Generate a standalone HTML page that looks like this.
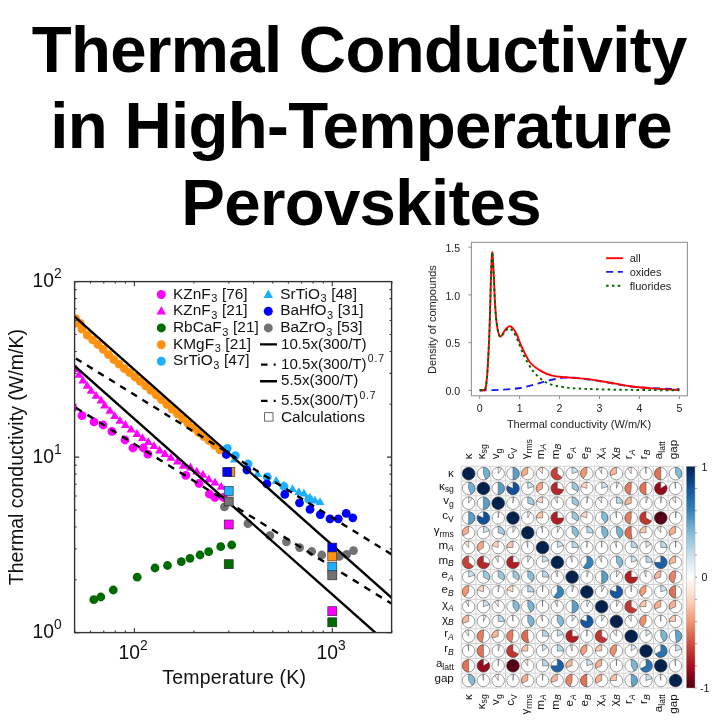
<!DOCTYPE html><html><head><meta charset="utf-8"><style>html,body{margin:0;padding:0;background:#fff;width:720px;height:720px;overflow:hidden}svg{display:block;will-change:transform}text{font-family:"Liberation Sans",sans-serif}</style></head><body>
<svg width="720" height="720" viewBox="0 0 720 720">
<rect width="720" height="720" fill="#fff"/>
<g font-weight="bold" font-size="65.4" letter-spacing="-0.69" text-anchor="middle" fill="#000">
<text x="359.2" y="72.0">Thermal Conductivity</text>
<text x="361.1" y="148.0">in High-Temperature</text>
<text x="361.1" y="225.3">Perovskites</text>
</g>
<defs><clipPath id="cp"><rect x="74.6" y="281.6" width="317.0" height="351.0"/></clipPath></defs>
<g clip-path="url(#cp)">
<circle cx="76.7" cy="323.2" r="4.4" fill="#ff9210"/>
<circle cx="82.0" cy="329.2" r="4.4" fill="#ff9210"/>
<circle cx="87.3" cy="335.1" r="4.4" fill="#ff9210"/>
<circle cx="92.6" cy="339.8" r="4.4" fill="#ff9210"/>
<circle cx="97.9" cy="344.5" r="4.4" fill="#ff9210"/>
<circle cx="103.2" cy="349.3" r="4.4" fill="#ff9210"/>
<circle cx="108.5" cy="354.6" r="4.4" fill="#ff9210"/>
<circle cx="113.8" cy="359.7" r="4.4" fill="#ff9210"/>
<circle cx="119.1" cy="364.2" r="4.4" fill="#ff9210"/>
<circle cx="124.4" cy="368.7" r="4.4" fill="#ff9210"/>
<circle cx="129.7" cy="372.7" r="4.4" fill="#ff9210"/>
<circle cx="135.0" cy="377.0" r="4.4" fill="#ff9210"/>
<circle cx="140.3" cy="381.3" r="4.4" fill="#ff9210"/>
<circle cx="145.6" cy="385.8" r="4.4" fill="#ff9210"/>
<circle cx="150.9" cy="390.4" r="4.4" fill="#ff9210"/>
<circle cx="156.2" cy="395.0" r="4.4" fill="#ff9210"/>
<circle cx="161.5" cy="399.6" r="4.4" fill="#ff9210"/>
<circle cx="166.8" cy="404.3" r="4.4" fill="#ff9210"/>
<circle cx="172.1" cy="409.1" r="4.4" fill="#ff9210"/>
<circle cx="177.4" cy="413.8" r="4.4" fill="#ff9210"/>
<circle cx="182.7" cy="418.6" r="4.4" fill="#ff9210"/>
<circle cx="188.0" cy="423.4" r="4.4" fill="#ff9210"/>
<circle cx="193.3" cy="428.1" r="4.4" fill="#ff9210"/>
<circle cx="198.6" cy="432.5" r="4.4" fill="#ff9210"/>
<circle cx="203.9" cy="436.6" r="4.4" fill="#ff9210"/>
<circle cx="209.2" cy="440.7" r="4.4" fill="#ff9210"/>
<circle cx="214.5" cy="445.1" r="4.4" fill="#ff9210"/>
<circle cx="219.8" cy="449.8" r="4.4" fill="#ff9210"/>
<circle cx="75.6" cy="318.6" r="4.4" fill="#ff9210"/>
<circle cx="80.3" cy="323.4" r="4.4" fill="#ff9210"/>
<path d="M76.0 364.3L80.5 372.1L71.5 372.1Z" fill="#ff00ff"/>
<path d="M79.0 369.9L83.5 377.7L74.5 377.7Z" fill="#ff00ff"/>
<path d="M82.9 375.7L87.4 383.5L78.4 383.5Z" fill="#ff00ff"/>
<path d="M87.1 381.0L91.6 388.8L82.6 388.8Z" fill="#ff00ff"/>
<path d="M91.2 386.0L95.7 393.8L86.7 393.8Z" fill="#ff00ff"/>
<path d="M96.1 391.0L100.6 398.8L91.6 398.8Z" fill="#ff00ff"/>
<path d="M101.1 395.8L105.6 403.6L96.6 403.6Z" fill="#ff00ff"/>
<path d="M104.7 400.6L109.2 408.4L100.2 408.4Z" fill="#ff00ff"/>
<path d="M109.9 405.9L114.4 413.7L105.4 413.7Z" fill="#ff00ff"/>
<path d="M114.7 411.2L119.2 419.0L110.2 419.0Z" fill="#ff00ff"/>
<path d="M120.0 415.9L124.5 423.7L115.5 423.7Z" fill="#ff00ff"/>
<path d="M125.4 420.1L129.9 427.9L120.9 427.9Z" fill="#ff00ff"/>
<path d="M131.1 424.8L135.6 432.6L126.6 432.6Z" fill="#ff00ff"/>
<path d="M137.0 429.1L141.5 436.9L132.5 436.9Z" fill="#ff00ff"/>
<path d="M142.5 433.3L147.0 441.1L138.0 441.1Z" fill="#ff00ff"/>
<path d="M148.3 437.3L152.8 445.1L143.8 445.1Z" fill="#ff00ff"/>
<path d="M154.0 441.3L158.5 449.1L149.5 449.1Z" fill="#ff00ff"/>
<path d="M159.6 445.6L164.1 453.4L155.1 453.4Z" fill="#ff00ff"/>
<path d="M165.0 449.1L169.5 456.9L160.5 456.9Z" fill="#ff00ff"/>
<path d="M170.8 453.0L175.3 460.8L166.3 460.8Z" fill="#ff00ff"/>
<path d="M177.5 456.8L182.0 464.6L173.0 464.6Z" fill="#ff00ff"/>
<path d="M183.3 461.1L187.8 468.8L178.8 468.8Z" fill="#ff00ff"/>
<path d="M190.4 462.6L194.9 470.4L185.9 470.4Z" fill="#ff00ff"/>
<path d="M196.7 466.7L201.2 474.5L192.2 474.5Z" fill="#ff00ff"/>
<path d="M202.9 470.0L207.4 477.8L198.4 477.8Z" fill="#ff00ff"/>
<path d="M208.8 474.4L213.2 482.2L204.2 482.2Z" fill="#ff00ff"/>
<path d="M215.0 477.7L219.5 485.5L210.5 485.5Z" fill="#ff00ff"/>
<path d="M221.2 481.9L225.8 489.7L216.8 489.7Z" fill="#ff00ff"/>
<circle cx="73.0" cy="408.0" r="4.4" fill="#ff00ff"/>
<circle cx="81.9" cy="415.6" r="4.4" fill="#ff00ff"/>
<circle cx="94.0" cy="421.9" r="4.4" fill="#ff00ff"/>
<circle cx="103.1" cy="425.0" r="4.4" fill="#ff00ff"/>
<circle cx="111.9" cy="431.3" r="4.4" fill="#ff00ff"/>
<circle cx="125.0" cy="440.0" r="4.4" fill="#ff00ff"/>
<circle cx="132.9" cy="448.0" r="4.4" fill="#ff00ff"/>
<circle cx="143.3" cy="448.0" r="4.4" fill="#ff00ff"/>
<circle cx="147.9" cy="454.2" r="4.4" fill="#ff00ff"/>
<circle cx="185.8" cy="475.4" r="4.4" fill="#ff00ff"/>
<circle cx="199.0" cy="483.5" r="4.4" fill="#ff00ff"/>
<circle cx="209.3" cy="494.0" r="4.4" fill="#ff00ff"/>
<circle cx="214.8" cy="497.5" r="4.4" fill="#ff00ff"/>
<circle cx="223.5" cy="497.5" r="4.4" fill="#ff00ff"/>
<circle cx="93.8" cy="599.7" r="4.4" fill="#006b00"/>
<circle cx="100.8" cy="597.0" r="4.4" fill="#006b00"/>
<circle cx="113.3" cy="590.0" r="4.4" fill="#006b00"/>
<circle cx="137.2" cy="577.2" r="4.4" fill="#006b00"/>
<circle cx="155.0" cy="568.0" r="4.4" fill="#006b00"/>
<circle cx="167.5" cy="565.5" r="4.4" fill="#006b00"/>
<circle cx="181.3" cy="561.7" r="4.4" fill="#006b00"/>
<circle cx="190.0" cy="558.3" r="4.4" fill="#006b00"/>
<circle cx="200.0" cy="555.0" r="4.4" fill="#006b00"/>
<circle cx="208.7" cy="551.7" r="4.4" fill="#006b00"/>
<circle cx="220.7" cy="546.7" r="4.4" fill="#006b00"/>
<circle cx="231.7" cy="545.0" r="4.4" fill="#006b00"/>
<circle cx="224.4" cy="506.9" r="4.4" fill="#727272"/>
<circle cx="247.9" cy="523.7" r="4.4" fill="#727272"/>
<circle cx="269.9" cy="535.6" r="4.4" fill="#727272"/>
<circle cx="286.4" cy="541.8" r="4.4" fill="#727272"/>
<circle cx="299.6" cy="547.6" r="4.4" fill="#727272"/>
<circle cx="311.7" cy="551.5" r="4.4" fill="#727272"/>
<circle cx="321.8" cy="555.0" r="4.4" fill="#727272"/>
<circle cx="339.3" cy="556.4" r="4.4" fill="#727272"/>
<circle cx="346.7" cy="554.4" r="4.4" fill="#727272"/>
<circle cx="353.5" cy="550.6" r="4.4" fill="#727272"/>
<circle cx="227.3" cy="448.3" r="4.4" fill="#1eb0ff"/>
<circle cx="235.4" cy="455.6" r="4.4" fill="#1eb0ff"/>
<circle cx="248.1" cy="464.0" r="4.4" fill="#1eb0ff"/>
<circle cx="267.3" cy="476.9" r="4.4" fill="#1eb0ff"/>
<circle cx="284.0" cy="486.5" r="4.4" fill="#1eb0ff"/>
<circle cx="308.8" cy="499.4" r="4.4" fill="#1eb0ff"/>
<path d="M234.5 454.8L239.0 462.6L230.0 462.6Z" fill="#1eb0ff"/>
<path d="M257.5 469.3L262.0 477.1L253.0 477.1Z" fill="#1eb0ff"/>
<path d="M276.2 476.1L280.8 483.8L271.8 483.8Z" fill="#1eb0ff"/>
<path d="M284.0 480.8L288.5 488.6L279.5 488.6Z" fill="#1eb0ff"/>
<path d="M292.5 484.3L297.0 492.1L288.0 492.1Z" fill="#1eb0ff"/>
<path d="M298.8 487.3L303.2 495.1L294.2 495.1Z" fill="#1eb0ff"/>
<path d="M304.0 488.8L308.5 496.6L299.5 496.6Z" fill="#1eb0ff"/>
<path d="M310.0 492.8L314.5 500.6L305.5 500.6Z" fill="#1eb0ff"/>
<path d="M315.0 495.8L319.5 503.6L310.5 503.6Z" fill="#1eb0ff"/>
<path d="M320.0 497.3L324.5 505.1L315.5 505.1Z" fill="#1eb0ff"/>
<circle cx="226.3" cy="454.5" r="4.4" fill="#0000ff"/>
<circle cx="246.9" cy="470.0" r="4.4" fill="#0000ff"/>
<circle cx="266.9" cy="483.8" r="4.4" fill="#0000ff"/>
<circle cx="284.8" cy="494.4" r="4.4" fill="#0000ff"/>
<circle cx="299.5" cy="502.8" r="4.4" fill="#0000ff"/>
<circle cx="310.0" cy="509.4" r="4.4" fill="#0000ff"/>
<circle cx="320.3" cy="514.6" r="4.4" fill="#0000ff"/>
<circle cx="330.0" cy="518.8" r="4.4" fill="#0000ff"/>
<circle cx="338.3" cy="518.8" r="4.4" fill="#0000ff"/>
<circle cx="346.2" cy="513.4" r="4.4" fill="#0000ff"/>
<circle cx="352.8" cy="517.8" r="4.4" fill="#0000ff"/>
<line x1="74.60" y1="316.62" x2="400.07" y2="605.24" stroke="#000" stroke-width="2.4"/>
<line x1="74.60" y1="357.65" x2="400.07" y2="559.68" stroke="#000" stroke-width="2.4" stroke-dasharray="6.72 6.31" stroke-dashoffset="-1.5"/>
<line x1="74.60" y1="365.90" x2="400.07" y2="654.53" stroke="#000" stroke-width="2.4"/>
<line x1="74.60" y1="406.93" x2="400.07" y2="608.97" stroke="#000" stroke-width="2.4" stroke-dasharray="7.0 6.58" stroke-dashoffset="-1.5"/>
</g>
<rect x="225.8" y="467.5" width="9.0" height="9.0" fill="#ff9210" stroke="#222" stroke-width="0.6"/>
<rect x="222.8" y="467.5" width="9.0" height="9.0" fill="#0000ff" stroke="#222" stroke-width="0.6"/>
<rect x="224.2" y="486.4" width="9.0" height="9.0" fill="#1eb0ff" stroke="#222" stroke-width="0.6"/>
<rect x="224.2" y="497.0" width="9.0" height="9.0" fill="#727272" stroke="#222" stroke-width="0.6"/>
<rect x="224.2" y="520.0" width="9.0" height="9.0" fill="#ff00ff" stroke="#222" stroke-width="0.6"/>
<rect x="224.2" y="559.7" width="9.0" height="9.0" fill="#006b00" stroke="#222" stroke-width="0.6"/>
<rect x="327.8" y="543.1" width="9.0" height="9.0" fill="#0000ff" stroke="#222" stroke-width="0.6"/>
<rect x="327.8" y="551.9" width="9.0" height="9.0" fill="#ff9210" stroke="#222" stroke-width="0.6"/>
<rect x="327.8" y="562.6" width="9.0" height="9.0" fill="#1eb0ff" stroke="#222" stroke-width="0.6"/>
<rect x="327.8" y="570.8" width="9.0" height="9.0" fill="#727272" stroke="#222" stroke-width="0.6"/>
<rect x="327.8" y="606.7" width="9.0" height="9.0" fill="#ff00ff" stroke="#222" stroke-width="0.6"/>
<rect x="327.8" y="617.8" width="9.0" height="9.0" fill="#006b00" stroke="#222" stroke-width="0.6"/>
<path d="M74.83 632.60V630.60M74.83 281.60V283.60M90.50 632.60V630.60M90.50 281.60V283.60M103.74 632.60V630.60M103.74 281.60V283.60M115.22 632.60V630.60M115.22 281.60V283.60M125.34 632.60V630.60M125.34 281.60V283.60M134.40 632.60V628.00M134.40 281.60V286.20M193.97 632.60V630.60M193.97 281.60V283.60M228.82 632.60V630.60M228.82 281.60V283.60M253.55 632.60V630.60M253.55 281.60V283.60M272.73 632.60V630.60M272.73 281.60V283.60M288.40 632.60V630.60M288.40 281.60V283.60M301.64 632.60V630.60M301.64 281.60V283.60M313.12 632.60V630.60M313.12 281.60V283.60M323.24 632.60V630.60M323.24 281.60V283.60M332.30 632.60V628.00M332.30 281.60V286.20M391.87 632.60V630.60M391.87 281.60V283.60M74.60 632.60H79.20M391.60 632.60H387.00M74.60 579.77H76.60M391.60 579.77H389.60M74.60 548.87H76.60M391.60 548.87H389.60M74.60 526.94H76.60M391.60 526.94H389.60M74.60 509.93H76.60M391.60 509.93H389.60M74.60 496.03H76.60M391.60 496.03H389.60M74.60 484.29H76.60M391.60 484.29H389.60M74.60 474.11H76.60M391.60 474.11H389.60M74.60 465.13H76.60M391.60 465.13H389.60M74.60 457.10H79.20M391.60 457.10H387.00M74.60 404.27H76.60M391.60 404.27H389.60M74.60 373.37H76.60M391.60 373.37H389.60M74.60 351.44H76.60M391.60 351.44H389.60M74.60 334.43H76.60M391.60 334.43H389.60M74.60 320.53H76.60M391.60 320.53H389.60M74.60 308.79H76.60M391.60 308.79H389.60M74.60 298.61H76.60M391.60 298.61H389.60M74.60 289.63H76.60M391.60 289.63H389.60" stroke="#333" stroke-width="1.1" fill="none"/>
<rect x="74.6" y="281.6" width="317.0" height="351.0" fill="none" stroke="#333" stroke-width="1.4"/>
<g font-size="19.3" fill="#111">
<text x="118.5" y="659.3">10<tspan font-size="13.8" dy="-9.3">2</tspan></text>
<text x="316.5" y="659.3">10<tspan font-size="13.8" dy="-9.3">3</tspan></text>
<text x="32.5" y="462.8">10<tspan font-size="13.8" dy="-9.3">1</tspan></text>
<text x="32.5" y="287.3">10<tspan font-size="13.8" dy="-9.3">2</tspan></text>
<text x="32.5" y="638.3">10<tspan font-size="13.8" dy="-9.3">0</tspan></text>
<text x="162.2" y="683.9" font-size="19.5" textLength="143.8" lengthAdjust="spacing">Temperature (K)</text>
<text transform="translate(22.9,585.2) rotate(-90)" x="0" y="0" font-size="19.55">Thermal conductivity (W/m/K)</text>
</g>
<g font-size="15.4" fill="#111">
<circle cx="161.3" cy="294.5" r="4.5" fill="#ff00ff"/>
<text x="173" y="298.7">KZnF<tspan font-size="11" dy="3.6" dx="0.6">3</tspan><tspan dy="-3.6" dx="4.6">[76]</tspan></text>
<path d="M161.3 306.3L166.1 314.6L156.5 314.6Z" fill="#ff00ff"/>
<text x="173" y="315.4">KZnF<tspan font-size="11" dy="3.6" dx="0.6">3</tspan><tspan dy="-3.6" dx="4.6">[21]</tspan></text>
<circle cx="161.3" cy="327.9" r="4.5" fill="#006b00"/>
<text x="173" y="332.1">RbCaF<tspan font-size="11" dy="3.6" dx="0.6">3</tspan><tspan dy="-3.6" dx="4.6">[21]</tspan></text>
<circle cx="161.3" cy="344.7" r="4.5" fill="#ff9210"/>
<text x="173" y="348.8">KMgF<tspan font-size="11" dy="3.6" dx="0.6">3</tspan><tspan dy="-3.6" dx="4.6">[21]</tspan></text>
<circle cx="161.3" cy="361.3" r="4.5" fill="#1eb0ff"/>
<text x="173" y="365.2">SrTiO<tspan font-size="11" dy="3.6" dx="0.6">3</tspan><tspan dy="-3.6" dx="4.6">[47]</tspan></text>
<path d="M268.3 289.6L273.1 297.9L263.5 297.9Z" fill="#1eb0ff"/>
<text x="280.3" y="298.7">SrTiO<tspan font-size="11" dy="3.6" dx="0.6">3</tspan><tspan dy="-3.6" dx="4.6">[48]</tspan></text>
<circle cx="268.3" cy="311.2" r="4.5" fill="#0000ff"/>
<text x="280.3" y="315.4">BaHfO<tspan font-size="11" dy="3.6" dx="0.6">3</tspan><tspan dy="-3.6" dx="4.6">[31]</tspan></text>
<circle cx="268.3" cy="327.9" r="4.5" fill="#727272"/>
<text x="280.3" y="332.1">BaZrO<tspan font-size="11" dy="3.6" dx="0.6">3</tspan><tspan dy="-3.6" dx="4.6">[53]</tspan></text>
<path d="M260 344.4H277M260 381.25H277" stroke="#000" stroke-width="2.3"/>
<path d="M261 364.6H267.5M273.7 364.6H275.7M261 400.9H267.5M273.7 400.9H275.7" stroke="#000" stroke-width="2.3"/>
<text x="281" y="348.5" font-size="15.1">10.5x(300/T)</text>
<text x="281" y="368.7" font-size="15.1">10.5x(300/T)<tspan font-size="10.4" dy="-6.4" dx="1.2" letter-spacing="0.9">0.7</tspan></text>
<text x="281" y="385.3" font-size="15.1">5.5x(300/T)</text>
<text x="281" y="405.2" font-size="15.1">5.5x(300/T)<tspan font-size="10.4" dy="-6.4" dx="1.2" letter-spacing="0.9">0.7</tspan></text>
<rect x="264.6" y="412.7" width="8.4" height="8.4" fill="none" stroke="#444" stroke-width="0.8"/>
<text x="281" y="421.8">Calculations</text>
</g>
<rect x="471.4" y="242.3" width="216.0" height="153.5" fill="none" stroke="#8c8c8c" stroke-width="1"/>
<path d="M471.4 390.40H468.4M471.4 342.65H468.4M471.4 294.90H468.4M471.4 247.15H468.4M479.70 395.8V399.0M519.63 395.8V399.0M559.56 395.8V399.0M599.49 395.8V399.0M639.42 395.8V399.0M679.35 395.8V399.0" stroke="#8c8c8c" stroke-width="1" fill="none"/>
<g font-size="10.6" fill="#222">
<text x="460.2" y="395.10" text-anchor="end">0.0</text>
<text x="460.2" y="347.35" text-anchor="end">0.5</text>
<text x="460.2" y="299.60" text-anchor="end">1.0</text>
<text x="460.2" y="251.85" text-anchor="end">1.5</text>
<text x="479.70" y="412.1" text-anchor="middle">0</text>
<text x="519.63" y="412.1" text-anchor="middle">1</text>
<text x="559.56" y="412.1" text-anchor="middle">2</text>
<text x="599.49" y="412.1" text-anchor="middle">3</text>
<text x="639.42" y="412.1" text-anchor="middle">4</text>
<text x="679.35" y="412.1" text-anchor="middle">5</text>
</g>
<g font-size="11" fill="#222">
<text x="579" y="428.3" text-anchor="middle">Thermal conductivity (W/m/K)</text>
<text transform="translate(436.3,319.6) rotate(-90)" text-anchor="middle">Density of compounds</text>
<text x="629.7" y="262.2">all</text>
<text x="629.7" y="276.2">oxides</text>
<text x="629.7" y="289.9">fluorides</text>
</g>
<path d="M606.1 258.2H622.8" stroke="#ff0000" stroke-width="1.9"/>
<path d="M606.1 271.9H622.8" stroke="#1a1aff" stroke-width="1.9" stroke-dasharray="7 4.7"/>
<path d="M606.1 285.7H622.8" stroke="#006400" stroke-width="1.9" stroke-dasharray="2.5 3.3"/>
<path d="M479.70 390.30C483.08 390.22 493.28 390.18 500.00 389.80C506.72 389.42 513.67 389.05 520.00 388.00C526.33 386.95 533.73 384.63 538.00 383.50C542.27 382.37 542.77 381.95 545.60 381.20C548.43 380.45 552.05 379.60 555.00 379.00C557.95 378.40 560.07 377.80 563.30 377.60C566.53 377.40 568.83 377.30 574.40 377.80C579.97 378.30 589.28 379.47 596.70 380.60C604.12 381.73 611.50 383.45 618.90 384.60C626.30 385.75 631.02 386.72 641.10 387.50C651.18 388.28 673.02 389.00 679.40 389.30" fill="none" stroke="#1a1aff" stroke-width="1.9" stroke-dasharray="7 4.7"/>
<path d="M479.70 390.30C480.33 390.25 482.53 390.30 483.50 390.00C484.47 389.70 484.85 391.50 485.50 388.50C486.15 385.50 486.73 381.75 487.40 372.00C488.07 362.25 488.92 345.33 489.50 330.00C490.08 314.67 490.45 292.95 490.90 280.00C491.35 267.05 491.72 252.97 492.20 252.30C492.68 251.63 493.32 267.22 493.80 276.00C494.28 284.78 494.53 296.50 495.10 305.00C495.67 313.50 496.33 321.75 497.20 327.00C498.07 332.25 498.92 336.08 500.30 336.50C501.68 336.92 503.88 331.22 505.50 329.50C507.12 327.78 508.25 325.62 510.00 326.20C511.75 326.78 514.00 329.45 516.00 333.00C518.00 336.55 519.65 342.58 522.00 347.50C524.35 352.42 526.92 358.57 530.10 362.50C533.28 366.43 537.42 368.92 541.10 371.10C544.78 373.28 548.12 374.57 552.20 375.60C556.28 376.63 560.03 376.75 565.60 377.30C571.17 377.85 578.57 378.08 585.60 378.90C592.63 379.72 600.40 380.98 607.80 382.20C615.20 383.42 622.60 385.17 630.00 386.20C637.40 387.23 643.97 387.75 652.20 388.40C660.43 389.05 674.87 389.82 679.40 390.10" fill="none" stroke="#ff0000" stroke-width="1.9"/>
<path d="M479.70 390.30C480.33 390.25 482.53 390.30 483.50 390.00C484.47 389.70 484.85 391.50 485.50 388.50C486.15 385.50 486.73 381.75 487.40 372.00C488.07 362.25 488.92 345.33 489.50 330.00C490.08 314.67 490.45 292.95 490.90 280.00C491.35 267.05 491.72 252.97 492.20 252.30C492.68 251.63 493.32 267.22 493.80 276.00C494.28 284.78 494.53 296.50 495.10 305.00C495.67 313.50 496.33 321.67 497.20 327.00C498.07 332.33 498.92 336.33 500.30 337.00C501.68 337.67 503.88 332.42 505.50 331.00C507.12 329.58 508.25 327.58 510.00 328.50C511.75 329.42 513.70 332.02 516.00 336.50C518.30 340.98 521.10 349.82 523.80 355.40C526.50 360.98 529.83 366.52 532.20 370.00C534.57 373.48 535.40 374.03 538.00 376.25C540.60 378.47 543.58 381.49 547.80 383.30C552.02 385.11 557.00 386.17 563.30 387.10C569.60 388.03 574.48 388.43 585.60 388.90C596.72 389.37 614.37 389.67 630.00 389.90C645.63 390.13 671.17 390.23 679.40 390.30" fill="none" stroke="#006400" stroke-width="1.9" stroke-dasharray="2.5 3.3"/>
<path d="M461.25 466.25V687.95M461.25 466.25H682.95M476.03 466.25V687.95M461.25 481.03H682.95M490.81 466.25V687.95M461.25 495.81H682.95M505.59 466.25V687.95M461.25 510.59H682.95M520.37 466.25V687.95M461.25 525.37H682.95M535.15 466.25V687.95M461.25 540.15H682.95M549.93 466.25V687.95M461.25 554.93H682.95M564.71 466.25V687.95M461.25 569.71H682.95M579.49 466.25V687.95M461.25 584.49H682.95M594.27 466.25V687.95M461.25 599.27H682.95M609.05 466.25V687.95M461.25 614.05H682.95M623.83 466.25V687.95M461.25 628.83H682.95M638.61 466.25V687.95M461.25 643.61H682.95M653.39 466.25V687.95M461.25 658.39H682.95M668.17 466.25V687.95M461.25 673.17H682.95M682.95 466.25V687.95M461.25 687.95H682.95" stroke="#d3d3d3" stroke-width="1" fill="none"/>
<circle cx="468.64" cy="473.64" r="6.25" fill="#fff" stroke="#737373" stroke-width="0.7"/>
<circle cx="468.64" cy="473.64" r="6.25" fill="#022250" stroke="#333" stroke-width="0.5"/>
<path d="M468.64 473.64V467.39" stroke="#111" stroke-width="0.6"/>
<circle cx="483.42" cy="473.64" r="6.25" fill="#fff" stroke="#737373" stroke-width="0.7"/>
<path d="M483.42 473.64V467.39A6.25 6.25 0 0 1 485.72 479.45Z" fill="#72b0d2" stroke="#444" stroke-width="0.5"/>
<circle cx="498.20" cy="473.64" r="6.25" fill="#fff" stroke="#737373" stroke-width="0.7"/>
<path d="M498.20 473.64V467.39A6.25 6.25 0 0 1 501.87 468.58Z" fill="#e4eff6" stroke="#444" stroke-width="0.5"/>
<circle cx="512.98" cy="473.64" r="6.25" fill="#fff" stroke="#737373" stroke-width="0.7"/>
<path d="M512.98 473.64V467.39A6.25 6.25 0 0 1 512.98 479.89Z" fill="#599fc8" stroke="#444" stroke-width="0.5"/>
<circle cx="527.76" cy="473.64" r="6.25" fill="#fff" stroke="#737373" stroke-width="0.7"/>
<path d="M527.76 473.64V467.39A6.25 6.25 0 0 0 522.28 476.65Z" fill="#f6ac8b" stroke="#444" stroke-width="0.5"/>
<circle cx="542.54" cy="473.64" r="6.25" fill="#fff" stroke="#737373" stroke-width="0.7"/>
<path d="M542.54 473.64V467.39A6.25 6.25 0 0 0 538.26 469.08Z" fill="#fee5d7" stroke="#444" stroke-width="0.5"/>
<circle cx="557.32" cy="473.64" r="6.25" fill="#fff" stroke="#737373" stroke-width="0.7"/>
<path d="M557.32 473.64V467.39A6.25 6.25 0 1 0 562.14 477.62Z" fill="#c64136" stroke="#444" stroke-width="0.5"/>
<circle cx="572.10" cy="473.64" r="6.25" fill="#fff" stroke="#737373" stroke-width="0.7"/>
<path d="M572.10 473.64V467.39A6.25 6.25 0 0 1 578.04 471.71Z" fill="#c9e0ed" stroke="#444" stroke-width="0.5"/>
<circle cx="586.88" cy="473.64" r="6.25" fill="#fff" stroke="#737373" stroke-width="0.7"/>
<path d="M586.88 473.64V467.39A6.25 6.25 0 0 0 583.21 478.70Z" fill="#f29772" stroke="#444" stroke-width="0.5"/>
<circle cx="601.66" cy="473.64" r="6.25" fill="#fff" stroke="#737373" stroke-width="0.7"/>
<path d="M601.66 473.64V467.39A6.25 6.25 0 0 0 598.65 468.16Z" fill="#feeee4" stroke="#444" stroke-width="0.5"/>
<circle cx="616.44" cy="473.64" r="6.25" fill="#fff" stroke="#737373" stroke-width="0.7"/>
<path d="M616.44 473.64V467.39A6.25 6.25 0 0 0 610.50 475.57Z" fill="#f7b597" stroke="#444" stroke-width="0.5"/>
<circle cx="631.22" cy="473.64" r="6.25" fill="#fff" stroke="#737373" stroke-width="0.7"/>
<path d="M631.22 473.64V467.39A6.25 6.25 0 0 0 627.55 468.58Z" fill="#feeade" stroke="#444" stroke-width="0.5"/>
<circle cx="646.00" cy="473.64" r="6.25" fill="#fff" stroke="#737373" stroke-width="0.7"/>
<path d="M646.00 473.64V467.39A6.25 6.25 0 0 0 645.22 467.44Z" fill="#fffbf8" stroke="#444" stroke-width="0.5"/>
<circle cx="660.78" cy="473.64" r="6.25" fill="#fff" stroke="#737373" stroke-width="0.7"/>
<path d="M660.78 473.64V467.39A6.25 6.25 0 0 0 660.78 479.89Z" fill="#e07256" stroke="#444" stroke-width="0.5"/>
<circle cx="675.56" cy="473.64" r="6.25" fill="#fff" stroke="#737373" stroke-width="0.7"/>
<path d="M675.56 473.64V467.39A6.25 6.25 0 0 1 679.23 478.70Z" fill="#83bbd8" stroke="#444" stroke-width="0.5"/>
<circle cx="468.64" cy="488.42" r="6.25" fill="#fff" stroke="#737373" stroke-width="0.7"/>
<path d="M468.64 488.42V482.17A6.25 6.25 0 0 1 470.94 494.23Z" fill="#72b0d2" stroke="#444" stroke-width="0.5"/>
<circle cx="483.42" cy="488.42" r="6.25" fill="#fff" stroke="#737373" stroke-width="0.7"/>
<circle cx="483.42" cy="488.42" r="6.25" fill="#022250" stroke="#333" stroke-width="0.5"/>
<path d="M483.42 488.42V482.17" stroke="#111" stroke-width="0.6"/>
<circle cx="498.20" cy="488.42" r="6.25" fill="#fff" stroke="#737373" stroke-width="0.7"/>
<path d="M498.20 488.42V482.17A6.25 6.25 0 0 1 498.20 494.67Z" fill="#599fc8" stroke="#444" stroke-width="0.5"/>
<circle cx="512.98" cy="488.42" r="6.25" fill="#fff" stroke="#737373" stroke-width="0.7"/>
<path d="M512.98 488.42V482.17A6.25 6.25 0 1 1 507.32 485.76Z" fill="#145097" stroke="#444" stroke-width="0.5"/>
<circle cx="527.76" cy="488.42" r="6.25" fill="#fff" stroke="#737373" stroke-width="0.7"/>
<path d="M527.76 488.42V482.17A6.25 6.25 0 0 1 533.70 486.49Z" fill="#c9e0ed" stroke="#444" stroke-width="0.5"/>
<circle cx="542.54" cy="488.42" r="6.25" fill="#fff" stroke="#737373" stroke-width="0.7"/>
<path d="M542.54 488.42V482.17A6.25 6.25 0 0 0 537.48 492.09Z" fill="#f5a684" stroke="#444" stroke-width="0.5"/>
<circle cx="557.32" cy="488.42" r="6.25" fill="#fff" stroke="#737373" stroke-width="0.7"/>
<path d="M557.32 488.42V482.17A6.25 6.25 0 1 0 563.46 489.59Z" fill="#b6272a" stroke="#444" stroke-width="0.5"/>
<circle cx="572.10" cy="488.42" r="6.25" fill="#fff" stroke="#737373" stroke-width="0.7"/>
<path d="M572.10 488.42V482.17A6.25 6.25 0 0 1 577.58 491.43Z" fill="#9bc8df" stroke="#444" stroke-width="0.5"/>
<circle cx="586.88" cy="488.42" r="6.25" fill="#fff" stroke="#737373" stroke-width="0.7"/>
<path d="M586.88 488.42V482.17A6.25 6.25 0 0 0 580.94 486.49Z" fill="#fdd4bd" stroke="#444" stroke-width="0.5"/>
<circle cx="601.66" cy="488.42" r="6.25" fill="#fff" stroke="#737373" stroke-width="0.7"/>
<path d="M601.66 488.42V482.17A6.25 6.25 0 0 1 607.60 486.49Z" fill="#c9e0ed" stroke="#444" stroke-width="0.5"/>
<circle cx="616.44" cy="488.42" r="6.25" fill="#fff" stroke="#737373" stroke-width="0.7"/>
<path d="M616.44 488.42V482.17A6.25 6.25 0 0 1 619.10 482.76Z" fill="#ecf4f9" stroke="#444" stroke-width="0.5"/>
<circle cx="631.22" cy="488.42" r="6.25" fill="#fff" stroke="#737373" stroke-width="0.7"/>
<path d="M631.22 488.42V482.17A6.25 6.25 0 0 0 630.05 494.56Z" fill="#e57d5e" stroke="#444" stroke-width="0.5"/>
<circle cx="646.00" cy="488.42" r="6.25" fill="#fff" stroke="#737373" stroke-width="0.7"/>
<path d="M646.00 488.42V482.17A6.25 6.25 0 0 0 646.00 494.67Z" fill="#e07256" stroke="#444" stroke-width="0.5"/>
<circle cx="660.78" cy="488.42" r="6.25" fill="#fff" stroke="#737373" stroke-width="0.7"/>
<path d="M660.78 488.42V482.17A6.25 6.25 0 1 0 666.06 485.07Z" fill="#950b1c" stroke="#444" stroke-width="0.5"/>
<circle cx="675.56" cy="488.42" r="6.25" fill="#fff" stroke="#737373" stroke-width="0.7"/>
<path d="M675.56 488.42V482.17A6.25 6.25 0 0 0 674.78 482.22Z" fill="#fffbf8" stroke="#444" stroke-width="0.5"/>
<circle cx="468.64" cy="503.20" r="6.25" fill="#fff" stroke="#737373" stroke-width="0.7"/>
<path d="M468.64 503.20V496.95A6.25 6.25 0 0 1 472.31 498.14Z" fill="#e4eff6" stroke="#444" stroke-width="0.5"/>
<circle cx="483.42" cy="503.20" r="6.25" fill="#fff" stroke="#737373" stroke-width="0.7"/>
<path d="M483.42 503.20V496.95A6.25 6.25 0 0 1 483.42 509.45Z" fill="#599fc8" stroke="#444" stroke-width="0.5"/>
<circle cx="498.20" cy="503.20" r="6.25" fill="#fff" stroke="#737373" stroke-width="0.7"/>
<circle cx="498.20" cy="503.20" r="6.25" fill="#022250" stroke="#333" stroke-width="0.5"/>
<path d="M498.20 503.20V496.95" stroke="#111" stroke-width="0.6"/>
<circle cx="512.98" cy="503.20" r="6.25" fill="#fff" stroke="#737373" stroke-width="0.7"/>
<path d="M512.98 503.20V496.95A6.25 6.25 0 0 1 513.76 497.00Z" fill="#f9fcfd" stroke="#444" stroke-width="0.5"/>
<circle cx="527.76" cy="503.20" r="6.25" fill="#fff" stroke="#737373" stroke-width="0.7"/>
<path d="M527.76 503.20V496.95A6.25 6.25 0 0 1 533.70 505.13Z" fill="#a5cde2" stroke="#444" stroke-width="0.5"/>
<circle cx="542.54" cy="503.20" r="6.25" fill="#fff" stroke="#737373" stroke-width="0.7"/>
<path d="M542.54 503.20V496.95A6.25 6.25 0 0 0 536.60 501.27Z" fill="#fdd4bd" stroke="#444" stroke-width="0.5"/>
<circle cx="557.32" cy="503.20" r="6.25" fill="#fff" stroke="#737373" stroke-width="0.7"/>
<path d="M557.32 503.20V496.95A6.25 6.25 0 0 0 554.31 497.72Z" fill="#feeee4" stroke="#444" stroke-width="0.5"/>
<circle cx="572.10" cy="503.20" r="6.25" fill="#fff" stroke="#737373" stroke-width="0.7"/>
<path d="M572.10 503.20V496.95A6.25 6.25 0 0 1 577.58 506.21Z" fill="#9bc8df" stroke="#444" stroke-width="0.5"/>
<circle cx="586.88" cy="503.20" r="6.25" fill="#fff" stroke="#737373" stroke-width="0.7"/>
<path d="M586.88 503.20V496.95A6.25 6.25 0 0 1 588.05 497.06Z" fill="#f7fafc" stroke="#444" stroke-width="0.5"/>
<circle cx="601.66" cy="503.20" r="6.25" fill="#fff" stroke="#737373" stroke-width="0.7"/>
<path d="M601.66 503.20V496.95A6.25 6.25 0 0 0 597.99 498.14Z" fill="#feeade" stroke="#444" stroke-width="0.5"/>
<circle cx="616.44" cy="503.20" r="6.25" fill="#fff" stroke="#737373" stroke-width="0.7"/>
<path d="M616.44 503.20V496.95A6.25 6.25 0 0 1 622.69 503.20Z" fill="#b7d7e8" stroke="#444" stroke-width="0.5"/>
<circle cx="631.22" cy="503.20" r="6.25" fill="#fff" stroke="#737373" stroke-width="0.7"/>
<path d="M631.22 503.20V496.95A6.25 6.25 0 0 0 625.28 505.13Z" fill="#f7b597" stroke="#444" stroke-width="0.5"/>
<circle cx="646.00" cy="503.20" r="6.25" fill="#fff" stroke="#737373" stroke-width="0.7"/>
<path d="M646.00 503.20V496.95A6.25 6.25 0 0 1 647.93 497.26Z" fill="#f1f7fb" stroke="#444" stroke-width="0.5"/>
<circle cx="660.78" cy="503.20" r="6.25" fill="#fff" stroke="#737373" stroke-width="0.7"/>
<path d="M660.78 503.20V496.95A6.25 6.25 0 0 1 661.56 497.00Z" fill="#f9fcfd" stroke="#444" stroke-width="0.5"/>
<circle cx="675.56" cy="503.20" r="6.25" fill="#fff" stroke="#737373" stroke-width="0.7"/>
<path d="M675.56 503.20V496.95A6.25 6.25 0 0 0 671.89 498.14Z" fill="#feeade" stroke="#444" stroke-width="0.5"/>
<circle cx="468.64" cy="517.98" r="6.25" fill="#fff" stroke="#737373" stroke-width="0.7"/>
<path d="M468.64 517.98V511.73A6.25 6.25 0 0 1 468.64 524.23Z" fill="#599fc8" stroke="#444" stroke-width="0.5"/>
<circle cx="483.42" cy="517.98" r="6.25" fill="#fff" stroke="#737373" stroke-width="0.7"/>
<path d="M483.42 517.98V511.73A6.25 6.25 0 1 1 477.76 515.32Z" fill="#145097" stroke="#444" stroke-width="0.5"/>
<circle cx="498.20" cy="517.98" r="6.25" fill="#fff" stroke="#737373" stroke-width="0.7"/>
<path d="M498.20 517.98V511.73A6.25 6.25 0 0 1 498.98 511.78Z" fill="#f9fcfd" stroke="#444" stroke-width="0.5"/>
<circle cx="512.98" cy="517.98" r="6.25" fill="#fff" stroke="#737373" stroke-width="0.7"/>
<circle cx="512.98" cy="517.98" r="6.25" fill="#022250" stroke="#333" stroke-width="0.5"/>
<path d="M512.98 517.98V511.73" stroke="#111" stroke-width="0.6"/>
<circle cx="527.76" cy="517.98" r="6.25" fill="#fff" stroke="#737373" stroke-width="0.7"/>
<path d="M527.76 517.98V511.73A6.25 6.25 0 0 1 530.77 512.50Z" fill="#e9f3f8" stroke="#444" stroke-width="0.5"/>
<circle cx="542.54" cy="517.98" r="6.25" fill="#fff" stroke="#737373" stroke-width="0.7"/>
<path d="M542.54 517.98V511.73A6.25 6.25 0 0 0 536.29 517.98Z" fill="#fac5aa" stroke="#444" stroke-width="0.5"/>
<circle cx="557.32" cy="517.98" r="6.25" fill="#fff" stroke="#737373" stroke-width="0.7"/>
<path d="M557.32 517.98V511.73A6.25 6.25 0 1 0 563.57 517.98Z" fill="#b01d25" stroke="#444" stroke-width="0.5"/>
<circle cx="572.10" cy="517.98" r="6.25" fill="#fff" stroke="#737373" stroke-width="0.7"/>
<path d="M572.10 517.98V511.73A6.25 6.25 0 0 1 577.58 520.99Z" fill="#9bc8df" stroke="#444" stroke-width="0.5"/>
<circle cx="586.88" cy="517.98" r="6.25" fill="#fff" stroke="#737373" stroke-width="0.7"/>
<path d="M586.88 517.98V511.73A6.25 6.25 0 0 0 580.94 516.05Z" fill="#fdd4bd" stroke="#444" stroke-width="0.5"/>
<circle cx="601.66" cy="517.98" r="6.25" fill="#fff" stroke="#737373" stroke-width="0.7"/>
<path d="M601.66 517.98V511.73A6.25 6.25 0 0 1 605.33 523.04Z" fill="#83bbd8" stroke="#444" stroke-width="0.5"/>
<circle cx="616.44" cy="517.98" r="6.25" fill="#fff" stroke="#737373" stroke-width="0.7"/>
<path d="M616.44 517.98V511.73A6.25 6.25 0 0 0 615.66 511.78Z" fill="#fffbf8" stroke="#444" stroke-width="0.5"/>
<circle cx="631.22" cy="517.98" r="6.25" fill="#fff" stroke="#737373" stroke-width="0.7"/>
<path d="M631.22 517.98V511.73A6.25 6.25 0 0 0 630.05 524.12Z" fill="#e57d5e" stroke="#444" stroke-width="0.5"/>
<circle cx="646.00" cy="517.98" r="6.25" fill="#fff" stroke="#737373" stroke-width="0.7"/>
<path d="M646.00 517.98V511.73A6.25 6.25 0 1 0 651.48 520.99Z" fill="#c03732" stroke="#444" stroke-width="0.5"/>
<circle cx="660.78" cy="517.98" r="6.25" fill="#fff" stroke="#737373" stroke-width="0.7"/>
<circle cx="660.78" cy="517.98" r="6.25" fill="#580015" stroke="#333" stroke-width="0.5"/>
<path d="M660.78 517.98V511.73" stroke="#111" stroke-width="0.6"/>
<circle cx="675.56" cy="517.98" r="6.25" fill="#fff" stroke="#737373" stroke-width="0.7"/>
<path d="M675.56 517.98V511.73A6.25 6.25 0 0 1 676.34 511.78Z" fill="#f9fcfd" stroke="#444" stroke-width="0.5"/>
<circle cx="468.64" cy="532.76" r="6.25" fill="#fff" stroke="#737373" stroke-width="0.7"/>
<path d="M468.64 532.76V526.51A6.25 6.25 0 0 0 463.16 535.77Z" fill="#f6ac8b" stroke="#444" stroke-width="0.5"/>
<circle cx="483.42" cy="532.76" r="6.25" fill="#fff" stroke="#737373" stroke-width="0.7"/>
<path d="M483.42 532.76V526.51A6.25 6.25 0 0 1 489.36 530.83Z" fill="#c9e0ed" stroke="#444" stroke-width="0.5"/>
<circle cx="498.20" cy="532.76" r="6.25" fill="#fff" stroke="#737373" stroke-width="0.7"/>
<path d="M498.20 532.76V526.51A6.25 6.25 0 0 1 504.14 534.69Z" fill="#a5cde2" stroke="#444" stroke-width="0.5"/>
<circle cx="512.98" cy="532.76" r="6.25" fill="#fff" stroke="#737373" stroke-width="0.7"/>
<path d="M512.98 532.76V526.51A6.25 6.25 0 0 1 515.99 527.28Z" fill="#e9f3f8" stroke="#444" stroke-width="0.5"/>
<circle cx="527.76" cy="532.76" r="6.25" fill="#fff" stroke="#737373" stroke-width="0.7"/>
<circle cx="527.76" cy="532.76" r="6.25" fill="#022250" stroke="#333" stroke-width="0.5"/>
<path d="M527.76 532.76V526.51" stroke="#111" stroke-width="0.6"/>
<circle cx="542.54" cy="532.76" r="6.25" fill="#fff" stroke="#737373" stroke-width="0.7"/>
<path d="M542.54 532.76V526.51A6.25 6.25 0 0 0 541.37 526.62Z" fill="#fff9f5" stroke="#444" stroke-width="0.5"/>
<circle cx="557.32" cy="532.76" r="6.25" fill="#fff" stroke="#737373" stroke-width="0.7"/>
<path d="M557.32 532.76V526.51A6.25 6.25 0 0 1 560.33 527.28Z" fill="#e9f3f8" stroke="#444" stroke-width="0.5"/>
<circle cx="572.10" cy="532.76" r="6.25" fill="#fff" stroke="#737373" stroke-width="0.7"/>
<path d="M572.10 532.76V526.51A6.25 6.25 0 0 1 576.38 537.32Z" fill="#89bfda" stroke="#444" stroke-width="0.5"/>
<circle cx="586.88" cy="532.76" r="6.25" fill="#fff" stroke="#737373" stroke-width="0.7"/>
<path d="M586.88 532.76V526.51A6.25 6.25 0 0 1 593.13 532.76Z" fill="#b7d7e8" stroke="#444" stroke-width="0.5"/>
<circle cx="601.66" cy="532.76" r="6.25" fill="#fff" stroke="#737373" stroke-width="0.7"/>
<path d="M601.66 532.76V526.51A6.25 6.25 0 0 1 604.67 538.24Z" fill="#7ab5d5" stroke="#444" stroke-width="0.5"/>
<circle cx="616.44" cy="532.76" r="6.25" fill="#fff" stroke="#737373" stroke-width="0.7"/>
<path d="M616.44 532.76V526.51A6.25 6.25 0 0 1 619.45 538.24Z" fill="#7ab5d5" stroke="#444" stroke-width="0.5"/>
<circle cx="631.22" cy="532.76" r="6.25" fill="#fff" stroke="#737373" stroke-width="0.7"/>
<path d="M631.22 532.76V526.51A6.25 6.25 0 1 0 632.00 538.96Z" fill="#dd6b51" stroke="#444" stroke-width="0.5"/>
<circle cx="646.00" cy="532.76" r="6.25" fill="#fff" stroke="#737373" stroke-width="0.7"/>
<path d="M646.00 532.76V526.51A6.25 6.25 0 0 0 639.75 532.76Z" fill="#fac5aa" stroke="#444" stroke-width="0.5"/>
<circle cx="660.78" cy="532.76" r="6.25" fill="#fff" stroke="#737373" stroke-width="0.7"/>
<path d="M660.78 532.76V526.51A6.25 6.25 0 0 0 657.11 527.70Z" fill="#feeade" stroke="#444" stroke-width="0.5"/>
<circle cx="675.56" cy="532.76" r="6.25" fill="#fff" stroke="#737373" stroke-width="0.7"/>
<path d="M675.56 532.76V526.51A6.25 6.25 0 0 0 669.90 535.42Z" fill="#f6af8f" stroke="#444" stroke-width="0.5"/>
<circle cx="468.64" cy="547.54" r="6.25" fill="#fff" stroke="#737373" stroke-width="0.7"/>
<path d="M468.64 547.54V541.29A6.25 6.25 0 0 0 464.36 542.98Z" fill="#fee5d7" stroke="#444" stroke-width="0.5"/>
<circle cx="483.42" cy="547.54" r="6.25" fill="#fff" stroke="#737373" stroke-width="0.7"/>
<path d="M483.42 547.54V541.29A6.25 6.25 0 0 0 478.36 551.21Z" fill="#f5a684" stroke="#444" stroke-width="0.5"/>
<circle cx="498.20" cy="547.54" r="6.25" fill="#fff" stroke="#737373" stroke-width="0.7"/>
<path d="M498.20 547.54V541.29A6.25 6.25 0 0 0 492.26 545.61Z" fill="#fdd4bd" stroke="#444" stroke-width="0.5"/>
<circle cx="512.98" cy="547.54" r="6.25" fill="#fff" stroke="#737373" stroke-width="0.7"/>
<path d="M512.98 547.54V541.29A6.25 6.25 0 0 0 506.73 547.54Z" fill="#fac5aa" stroke="#444" stroke-width="0.5"/>
<circle cx="527.76" cy="547.54" r="6.25" fill="#fff" stroke="#737373" stroke-width="0.7"/>
<path d="M527.76 547.54V541.29A6.25 6.25 0 0 0 526.59 541.40Z" fill="#fff9f5" stroke="#444" stroke-width="0.5"/>
<circle cx="542.54" cy="547.54" r="6.25" fill="#fff" stroke="#737373" stroke-width="0.7"/>
<circle cx="542.54" cy="547.54" r="6.25" fill="#022250" stroke="#333" stroke-width="0.5"/>
<path d="M542.54 547.54V541.29" stroke="#111" stroke-width="0.6"/>
<circle cx="557.32" cy="547.54" r="6.25" fill="#fff" stroke="#737373" stroke-width="0.7"/>
<path d="M557.32 547.54V541.29A6.25 6.25 0 0 1 563.26 545.61Z" fill="#c9e0ed" stroke="#444" stroke-width="0.5"/>
<circle cx="572.10" cy="547.54" r="6.25" fill="#fff" stroke="#737373" stroke-width="0.7"/>
<path d="M572.10 547.54V541.29A6.25 6.25 0 0 1 578.35 547.54Z" fill="#b7d7e8" stroke="#444" stroke-width="0.5"/>
<circle cx="586.88" cy="547.54" r="6.25" fill="#fff" stroke="#737373" stroke-width="0.7"/>
<path d="M586.88 547.54V541.29A6.25 6.25 0 0 1 587.27 541.30Z" fill="#fcfdfe" stroke="#444" stroke-width="0.5"/>
<circle cx="601.66" cy="547.54" r="6.25" fill="#fff" stroke="#737373" stroke-width="0.7"/>
<path d="M601.66 547.54V541.29A6.25 6.25 0 0 0 601.66 541.29Z" fill="#ffffff" stroke="#444" stroke-width="0.5"/>
<circle cx="616.44" cy="547.54" r="6.25" fill="#fff" stroke="#737373" stroke-width="0.7"/>
<path d="M616.44 547.54V541.29A6.25 6.25 0 0 0 614.51 541.60Z" fill="#fef4ee" stroke="#444" stroke-width="0.5"/>
<circle cx="631.22" cy="547.54" r="6.25" fill="#fff" stroke="#737373" stroke-width="0.7"/>
<path d="M631.22 547.54V541.29A6.25 6.25 0 0 1 637.47 547.54Z" fill="#b7d7e8" stroke="#444" stroke-width="0.5"/>
<circle cx="646.00" cy="547.54" r="6.25" fill="#fff" stroke="#737373" stroke-width="0.7"/>
<path d="M646.00 547.54V541.29A6.25 6.25 0 0 1 651.06 543.87Z" fill="#d6e8f2" stroke="#444" stroke-width="0.5"/>
<circle cx="660.78" cy="547.54" r="6.25" fill="#fff" stroke="#737373" stroke-width="0.7"/>
<path d="M660.78 547.54V541.29A6.25 6.25 0 0 1 667.03 547.54Z" fill="#b7d7e8" stroke="#444" stroke-width="0.5"/>
<circle cx="675.56" cy="547.54" r="6.25" fill="#fff" stroke="#737373" stroke-width="0.7"/>
<path d="M675.56 547.54V541.29A6.25 6.25 0 0 1 675.95 541.30Z" fill="#fcfdfe" stroke="#444" stroke-width="0.5"/>
<circle cx="468.64" cy="562.32" r="6.25" fill="#fff" stroke="#737373" stroke-width="0.7"/>
<path d="M468.64 562.32V556.07A6.25 6.25 0 1 0 473.46 566.30Z" fill="#c64136" stroke="#444" stroke-width="0.5"/>
<circle cx="483.42" cy="562.32" r="6.25" fill="#fff" stroke="#737373" stroke-width="0.7"/>
<path d="M483.42 562.32V556.07A6.25 6.25 0 1 0 489.56 563.49Z" fill="#b6272a" stroke="#444" stroke-width="0.5"/>
<circle cx="498.20" cy="562.32" r="6.25" fill="#fff" stroke="#737373" stroke-width="0.7"/>
<path d="M498.20 562.32V556.07A6.25 6.25 0 0 0 495.19 556.84Z" fill="#feeee4" stroke="#444" stroke-width="0.5"/>
<circle cx="512.98" cy="562.32" r="6.25" fill="#fff" stroke="#737373" stroke-width="0.7"/>
<path d="M512.98 562.32V556.07A6.25 6.25 0 1 0 519.23 562.32Z" fill="#b01d25" stroke="#444" stroke-width="0.5"/>
<circle cx="527.76" cy="562.32" r="6.25" fill="#fff" stroke="#737373" stroke-width="0.7"/>
<path d="M527.76 562.32V556.07A6.25 6.25 0 0 1 530.77 556.84Z" fill="#e9f3f8" stroke="#444" stroke-width="0.5"/>
<circle cx="542.54" cy="562.32" r="6.25" fill="#fff" stroke="#737373" stroke-width="0.7"/>
<path d="M542.54 562.32V556.07A6.25 6.25 0 0 1 548.48 560.39Z" fill="#c9e0ed" stroke="#444" stroke-width="0.5"/>
<circle cx="557.32" cy="562.32" r="6.25" fill="#fff" stroke="#737373" stroke-width="0.7"/>
<circle cx="557.32" cy="562.32" r="6.25" fill="#022250" stroke="#333" stroke-width="0.5"/>
<path d="M557.32 562.32V556.07" stroke="#111" stroke-width="0.6"/>
<circle cx="572.10" cy="562.32" r="6.25" fill="#fff" stroke="#737373" stroke-width="0.7"/>
<path d="M572.10 562.32V556.07A6.25 6.25 0 0 0 570.17 556.38Z" fill="#fef4ee" stroke="#444" stroke-width="0.5"/>
<circle cx="586.88" cy="562.32" r="6.25" fill="#fff" stroke="#737373" stroke-width="0.7"/>
<path d="M586.88 562.32V556.07A6.25 6.25 0 1 1 583.21 567.38Z" fill="#3384b9" stroke="#444" stroke-width="0.5"/>
<circle cx="601.66" cy="562.32" r="6.25" fill="#fff" stroke="#737373" stroke-width="0.7"/>
<path d="M601.66 562.32V556.07A6.25 6.25 0 0 0 599.00 556.66Z" fill="#fef0e8" stroke="#444" stroke-width="0.5"/>
<circle cx="616.44" cy="562.32" r="6.25" fill="#fff" stroke="#737373" stroke-width="0.7"/>
<path d="M616.44 562.32V556.07A6.25 6.25 0 0 1 620.11 567.38Z" fill="#83bbd8" stroke="#444" stroke-width="0.5"/>
<circle cx="631.22" cy="562.32" r="6.25" fill="#fff" stroke="#737373" stroke-width="0.7"/>
<path d="M631.22 562.32V556.07A6.25 6.25 0 0 1 637.16 560.39Z" fill="#c9e0ed" stroke="#444" stroke-width="0.5"/>
<circle cx="646.00" cy="562.32" r="6.25" fill="#fff" stroke="#737373" stroke-width="0.7"/>
<path d="M646.00 562.32V556.07A6.25 6.25 0 0 1 652.25 562.32Z" fill="#b7d7e8" stroke="#444" stroke-width="0.5"/>
<circle cx="660.78" cy="562.32" r="6.25" fill="#fff" stroke="#737373" stroke-width="0.7"/>
<path d="M660.78 562.32V556.07A6.25 6.25 0 1 1 654.53 562.32Z" fill="#1d60a5" stroke="#444" stroke-width="0.5"/>
<circle cx="675.56" cy="562.32" r="6.25" fill="#fff" stroke="#737373" stroke-width="0.7"/>
<path d="M675.56 562.32V556.07A6.25 6.25 0 0 0 669.62 564.25Z" fill="#f7b597" stroke="#444" stroke-width="0.5"/>
<circle cx="468.64" cy="577.10" r="6.25" fill="#fff" stroke="#737373" stroke-width="0.7"/>
<path d="M468.64 577.10V570.85A6.25 6.25 0 0 1 474.58 575.17Z" fill="#c9e0ed" stroke="#444" stroke-width="0.5"/>
<circle cx="483.42" cy="577.10" r="6.25" fill="#fff" stroke="#737373" stroke-width="0.7"/>
<path d="M483.42 577.10V570.85A6.25 6.25 0 0 1 488.90 580.11Z" fill="#9bc8df" stroke="#444" stroke-width="0.5"/>
<circle cx="498.20" cy="577.10" r="6.25" fill="#fff" stroke="#737373" stroke-width="0.7"/>
<path d="M498.20 577.10V570.85A6.25 6.25 0 0 1 503.68 580.11Z" fill="#9bc8df" stroke="#444" stroke-width="0.5"/>
<circle cx="512.98" cy="577.10" r="6.25" fill="#fff" stroke="#737373" stroke-width="0.7"/>
<path d="M512.98 577.10V570.85A6.25 6.25 0 0 1 518.46 580.11Z" fill="#9bc8df" stroke="#444" stroke-width="0.5"/>
<circle cx="527.76" cy="577.10" r="6.25" fill="#fff" stroke="#737373" stroke-width="0.7"/>
<path d="M527.76 577.10V570.85A6.25 6.25 0 0 1 532.04 581.66Z" fill="#89bfda" stroke="#444" stroke-width="0.5"/>
<circle cx="542.54" cy="577.10" r="6.25" fill="#fff" stroke="#737373" stroke-width="0.7"/>
<path d="M542.54 577.10V570.85A6.25 6.25 0 0 1 548.79 577.10Z" fill="#b7d7e8" stroke="#444" stroke-width="0.5"/>
<circle cx="557.32" cy="577.10" r="6.25" fill="#fff" stroke="#737373" stroke-width="0.7"/>
<path d="M557.32 577.10V570.85A6.25 6.25 0 0 0 555.39 571.16Z" fill="#fef4ee" stroke="#444" stroke-width="0.5"/>
<circle cx="572.10" cy="577.10" r="6.25" fill="#fff" stroke="#737373" stroke-width="0.7"/>
<circle cx="572.10" cy="577.10" r="6.25" fill="#022250" stroke="#333" stroke-width="0.5"/>
<path d="M572.10 577.10V570.85" stroke="#111" stroke-width="0.6"/>
<circle cx="586.88" cy="577.10" r="6.25" fill="#fff" stroke="#737373" stroke-width="0.7"/>
<path d="M586.88 577.10V570.85A6.25 6.25 0 0 1 588.81 571.16Z" fill="#f1f7fb" stroke="#444" stroke-width="0.5"/>
<circle cx="601.66" cy="577.10" r="6.25" fill="#fff" stroke="#737373" stroke-width="0.7"/>
<path d="M601.66 577.10V570.85A6.25 6.25 0 0 1 601.66 583.35Z" fill="#599fc8" stroke="#444" stroke-width="0.5"/>
<circle cx="616.44" cy="577.10" r="6.25" fill="#fff" stroke="#737373" stroke-width="0.7"/>
<path d="M616.44 577.10V570.85A6.25 6.25 0 0 1 620.11 572.04Z" fill="#e4eff6" stroke="#444" stroke-width="0.5"/>
<circle cx="631.22" cy="577.10" r="6.25" fill="#fff" stroke="#737373" stroke-width="0.7"/>
<path d="M631.22 577.10V570.85A6.25 6.25 0 1 0 637.47 577.10Z" fill="#b01d25" stroke="#444" stroke-width="0.5"/>
<circle cx="646.00" cy="577.10" r="6.25" fill="#fff" stroke="#737373" stroke-width="0.7"/>
<path d="M646.00 577.10V570.85A6.25 6.25 0 0 0 644.07 571.16Z" fill="#fef4ee" stroke="#444" stroke-width="0.5"/>
<circle cx="660.78" cy="577.10" r="6.25" fill="#fff" stroke="#737373" stroke-width="0.7"/>
<path d="M660.78 577.10V570.85A6.25 6.25 0 0 0 654.84 579.03Z" fill="#f7b597" stroke="#444" stroke-width="0.5"/>
<circle cx="675.56" cy="577.10" r="6.25" fill="#fff" stroke="#737373" stroke-width="0.7"/>
<path d="M675.56 577.10V570.85A6.25 6.25 0 0 0 673.63 583.04Z" fill="#e98464" stroke="#444" stroke-width="0.5"/>
<circle cx="468.64" cy="591.88" r="6.25" fill="#fff" stroke="#737373" stroke-width="0.7"/>
<path d="M468.64 591.88V585.63A6.25 6.25 0 0 0 464.97 596.94Z" fill="#f29772" stroke="#444" stroke-width="0.5"/>
<circle cx="483.42" cy="591.88" r="6.25" fill="#fff" stroke="#737373" stroke-width="0.7"/>
<path d="M483.42 591.88V585.63A6.25 6.25 0 0 0 477.48 589.95Z" fill="#fdd4bd" stroke="#444" stroke-width="0.5"/>
<circle cx="498.20" cy="591.88" r="6.25" fill="#fff" stroke="#737373" stroke-width="0.7"/>
<path d="M498.20 591.88V585.63A6.25 6.25 0 0 1 499.37 585.74Z" fill="#f7fafc" stroke="#444" stroke-width="0.5"/>
<circle cx="512.98" cy="591.88" r="6.25" fill="#fff" stroke="#737373" stroke-width="0.7"/>
<path d="M512.98 591.88V585.63A6.25 6.25 0 0 0 507.04 589.95Z" fill="#fdd4bd" stroke="#444" stroke-width="0.5"/>
<circle cx="527.76" cy="591.88" r="6.25" fill="#fff" stroke="#737373" stroke-width="0.7"/>
<path d="M527.76 591.88V585.63A6.25 6.25 0 0 1 534.01 591.88Z" fill="#b7d7e8" stroke="#444" stroke-width="0.5"/>
<circle cx="542.54" cy="591.88" r="6.25" fill="#fff" stroke="#737373" stroke-width="0.7"/>
<path d="M542.54 591.88V585.63A6.25 6.25 0 0 1 542.93 585.64Z" fill="#fcfdfe" stroke="#444" stroke-width="0.5"/>
<circle cx="557.32" cy="591.88" r="6.25" fill="#fff" stroke="#737373" stroke-width="0.7"/>
<path d="M557.32 591.88V585.63A6.25 6.25 0 1 1 553.65 596.94Z" fill="#3384b9" stroke="#444" stroke-width="0.5"/>
<circle cx="572.10" cy="591.88" r="6.25" fill="#fff" stroke="#737373" stroke-width="0.7"/>
<path d="M572.10 591.88V585.63A6.25 6.25 0 0 1 574.03 585.94Z" fill="#f1f7fb" stroke="#444" stroke-width="0.5"/>
<circle cx="586.88" cy="591.88" r="6.25" fill="#fff" stroke="#737373" stroke-width="0.7"/>
<circle cx="586.88" cy="591.88" r="6.25" fill="#022250" stroke="#333" stroke-width="0.5"/>
<path d="M586.88 591.88V585.63" stroke="#111" stroke-width="0.6"/>
<circle cx="601.66" cy="591.88" r="6.25" fill="#fff" stroke="#737373" stroke-width="0.7"/>
<path d="M601.66 591.88V585.63A6.25 6.25 0 0 1 604.67 586.40Z" fill="#e9f3f8" stroke="#444" stroke-width="0.5"/>
<circle cx="616.44" cy="591.88" r="6.25" fill="#fff" stroke="#737373" stroke-width="0.7"/>
<path d="M616.44 591.88V585.63A6.25 6.25 0 1 1 610.50 589.95Z" fill="#16559f" stroke="#444" stroke-width="0.5"/>
<circle cx="631.22" cy="591.88" r="6.25" fill="#fff" stroke="#737373" stroke-width="0.7"/>
<path d="M631.22 591.88V585.63A6.25 6.25 0 0 0 631.22 585.63Z" fill="#ffffff" stroke="#444" stroke-width="0.5"/>
<circle cx="646.00" cy="591.88" r="6.25" fill="#fff" stroke="#737373" stroke-width="0.7"/>
<path d="M646.00 591.88V585.63A6.25 6.25 0 0 0 641.72 596.44Z" fill="#f39d79" stroke="#444" stroke-width="0.5"/>
<circle cx="660.78" cy="591.88" r="6.25" fill="#fff" stroke="#737373" stroke-width="0.7"/>
<path d="M660.78 591.88V585.63A6.25 6.25 0 0 1 666.72 589.95Z" fill="#c9e0ed" stroke="#444" stroke-width="0.5"/>
<circle cx="675.56" cy="591.88" r="6.25" fill="#fff" stroke="#737373" stroke-width="0.7"/>
<path d="M675.56 591.88V585.63A6.25 6.25 0 0 0 675.56 598.13Z" fill="#e07256" stroke="#444" stroke-width="0.5"/>
<circle cx="468.64" cy="606.66" r="6.25" fill="#fff" stroke="#737373" stroke-width="0.7"/>
<path d="M468.64 606.66V600.41A6.25 6.25 0 0 0 465.63 601.18Z" fill="#feeee4" stroke="#444" stroke-width="0.5"/>
<circle cx="483.42" cy="606.66" r="6.25" fill="#fff" stroke="#737373" stroke-width="0.7"/>
<path d="M483.42 606.66V600.41A6.25 6.25 0 0 1 489.36 604.73Z" fill="#c9e0ed" stroke="#444" stroke-width="0.5"/>
<circle cx="498.20" cy="606.66" r="6.25" fill="#fff" stroke="#737373" stroke-width="0.7"/>
<path d="M498.20 606.66V600.41A6.25 6.25 0 0 0 494.53 601.60Z" fill="#feeade" stroke="#444" stroke-width="0.5"/>
<circle cx="512.98" cy="606.66" r="6.25" fill="#fff" stroke="#737373" stroke-width="0.7"/>
<path d="M512.98 606.66V600.41A6.25 6.25 0 0 1 516.65 611.72Z" fill="#83bbd8" stroke="#444" stroke-width="0.5"/>
<circle cx="527.76" cy="606.66" r="6.25" fill="#fff" stroke="#737373" stroke-width="0.7"/>
<path d="M527.76 606.66V600.41A6.25 6.25 0 0 1 530.77 612.14Z" fill="#7ab5d5" stroke="#444" stroke-width="0.5"/>
<circle cx="542.54" cy="606.66" r="6.25" fill="#fff" stroke="#737373" stroke-width="0.7"/>
<path d="M542.54 606.66V600.41A6.25 6.25 0 0 0 542.54 600.41Z" fill="#ffffff" stroke="#444" stroke-width="0.5"/>
<circle cx="557.32" cy="606.66" r="6.25" fill="#fff" stroke="#737373" stroke-width="0.7"/>
<path d="M557.32 606.66V600.41A6.25 6.25 0 0 0 554.66 601.00Z" fill="#fef0e8" stroke="#444" stroke-width="0.5"/>
<circle cx="572.10" cy="606.66" r="6.25" fill="#fff" stroke="#737373" stroke-width="0.7"/>
<path d="M572.10 606.66V600.41A6.25 6.25 0 0 1 572.10 612.91Z" fill="#599fc8" stroke="#444" stroke-width="0.5"/>
<circle cx="586.88" cy="606.66" r="6.25" fill="#fff" stroke="#737373" stroke-width="0.7"/>
<path d="M586.88 606.66V600.41A6.25 6.25 0 0 1 589.89 601.18Z" fill="#e9f3f8" stroke="#444" stroke-width="0.5"/>
<circle cx="601.66" cy="606.66" r="6.25" fill="#fff" stroke="#737373" stroke-width="0.7"/>
<circle cx="601.66" cy="606.66" r="6.25" fill="#022250" stroke="#333" stroke-width="0.5"/>
<path d="M601.66 606.66V600.41" stroke="#111" stroke-width="0.6"/>
<circle cx="616.44" cy="606.66" r="6.25" fill="#fff" stroke="#737373" stroke-width="0.7"/>
<path d="M616.44 606.66V600.41A6.25 6.25 0 0 1 619.45 601.18Z" fill="#e9f3f8" stroke="#444" stroke-width="0.5"/>
<circle cx="631.22" cy="606.66" r="6.25" fill="#fff" stroke="#737373" stroke-width="0.7"/>
<path d="M631.22 606.66V600.41A6.25 6.25 0 1 0 636.70 609.67Z" fill="#c03732" stroke="#444" stroke-width="0.5"/>
<circle cx="646.00" cy="606.66" r="6.25" fill="#fff" stroke="#737373" stroke-width="0.7"/>
<path d="M646.00 606.66V600.41A6.25 6.25 0 0 0 639.75 606.66Z" fill="#fac5aa" stroke="#444" stroke-width="0.5"/>
<circle cx="660.78" cy="606.66" r="6.25" fill="#fff" stroke="#737373" stroke-width="0.7"/>
<path d="M660.78 606.66V600.41A6.25 6.25 0 0 0 655.12 609.32Z" fill="#f6af8f" stroke="#444" stroke-width="0.5"/>
<circle cx="675.56" cy="606.66" r="6.25" fill="#fff" stroke="#737373" stroke-width="0.7"/>
<path d="M675.56 606.66V600.41A6.25 6.25 0 0 0 669.90 609.32Z" fill="#f6af8f" stroke="#444" stroke-width="0.5"/>
<circle cx="468.64" cy="621.44" r="6.25" fill="#fff" stroke="#737373" stroke-width="0.7"/>
<path d="M468.64 621.44V615.19A6.25 6.25 0 0 0 462.70 623.37Z" fill="#f7b597" stroke="#444" stroke-width="0.5"/>
<circle cx="483.42" cy="621.44" r="6.25" fill="#fff" stroke="#737373" stroke-width="0.7"/>
<path d="M483.42 621.44V615.19A6.25 6.25 0 0 1 486.08 615.78Z" fill="#ecf4f9" stroke="#444" stroke-width="0.5"/>
<circle cx="498.20" cy="621.44" r="6.25" fill="#fff" stroke="#737373" stroke-width="0.7"/>
<path d="M498.20 621.44V615.19A6.25 6.25 0 0 1 504.45 621.44Z" fill="#b7d7e8" stroke="#444" stroke-width="0.5"/>
<circle cx="512.98" cy="621.44" r="6.25" fill="#fff" stroke="#737373" stroke-width="0.7"/>
<path d="M512.98 621.44V615.19A6.25 6.25 0 0 0 512.20 615.24Z" fill="#fffbf8" stroke="#444" stroke-width="0.5"/>
<circle cx="527.76" cy="621.44" r="6.25" fill="#fff" stroke="#737373" stroke-width="0.7"/>
<path d="M527.76 621.44V615.19A6.25 6.25 0 0 1 530.77 626.92Z" fill="#7ab5d5" stroke="#444" stroke-width="0.5"/>
<circle cx="542.54" cy="621.44" r="6.25" fill="#fff" stroke="#737373" stroke-width="0.7"/>
<path d="M542.54 621.44V615.19A6.25 6.25 0 0 0 540.61 615.50Z" fill="#fef4ee" stroke="#444" stroke-width="0.5"/>
<circle cx="557.32" cy="621.44" r="6.25" fill="#fff" stroke="#737373" stroke-width="0.7"/>
<path d="M557.32 621.44V615.19A6.25 6.25 0 0 1 560.99 626.50Z" fill="#83bbd8" stroke="#444" stroke-width="0.5"/>
<circle cx="572.10" cy="621.44" r="6.25" fill="#fff" stroke="#737373" stroke-width="0.7"/>
<path d="M572.10 621.44V615.19A6.25 6.25 0 0 1 575.77 616.38Z" fill="#e4eff6" stroke="#444" stroke-width="0.5"/>
<circle cx="586.88" cy="621.44" r="6.25" fill="#fff" stroke="#737373" stroke-width="0.7"/>
<path d="M586.88 621.44V615.19A6.25 6.25 0 1 1 580.94 619.51Z" fill="#16559f" stroke="#444" stroke-width="0.5"/>
<circle cx="601.66" cy="621.44" r="6.25" fill="#fff" stroke="#737373" stroke-width="0.7"/>
<path d="M601.66 621.44V615.19A6.25 6.25 0 0 1 604.67 615.96Z" fill="#e9f3f8" stroke="#444" stroke-width="0.5"/>
<circle cx="616.44" cy="621.44" r="6.25" fill="#fff" stroke="#737373" stroke-width="0.7"/>
<circle cx="616.44" cy="621.44" r="6.25" fill="#022250" stroke="#333" stroke-width="0.5"/>
<path d="M616.44 621.44V615.19" stroke="#111" stroke-width="0.6"/>
<circle cx="631.22" cy="621.44" r="6.25" fill="#fff" stroke="#737373" stroke-width="0.7"/>
<path d="M631.22 621.44V615.19A6.25 6.25 0 0 0 627.55 616.38Z" fill="#feeade" stroke="#444" stroke-width="0.5"/>
<circle cx="646.00" cy="621.44" r="6.25" fill="#fff" stroke="#737373" stroke-width="0.7"/>
<path d="M646.00 621.44V615.19A6.25 6.25 0 0 0 642.99 626.92Z" fill="#ee906c" stroke="#444" stroke-width="0.5"/>
<circle cx="660.78" cy="621.44" r="6.25" fill="#fff" stroke="#737373" stroke-width="0.7"/>
<path d="M660.78 621.44V615.19A6.25 6.25 0 0 0 660.78 615.19Z" fill="#ffffff" stroke="#444" stroke-width="0.5"/>
<circle cx="675.56" cy="621.44" r="6.25" fill="#fff" stroke="#737373" stroke-width="0.7"/>
<path d="M675.56 621.44V615.19A6.25 6.25 0 0 0 669.31 621.44Z" fill="#fac5aa" stroke="#444" stroke-width="0.5"/>
<circle cx="468.64" cy="636.22" r="6.25" fill="#fff" stroke="#737373" stroke-width="0.7"/>
<path d="M468.64 636.22V629.97A6.25 6.25 0 0 0 464.97 631.16Z" fill="#feeade" stroke="#444" stroke-width="0.5"/>
<circle cx="483.42" cy="636.22" r="6.25" fill="#fff" stroke="#737373" stroke-width="0.7"/>
<path d="M483.42 636.22V629.97A6.25 6.25 0 0 0 482.25 642.36Z" fill="#e57d5e" stroke="#444" stroke-width="0.5"/>
<circle cx="498.20" cy="636.22" r="6.25" fill="#fff" stroke="#737373" stroke-width="0.7"/>
<path d="M498.20 636.22V629.97A6.25 6.25 0 0 0 492.26 638.15Z" fill="#f7b597" stroke="#444" stroke-width="0.5"/>
<circle cx="512.98" cy="636.22" r="6.25" fill="#fff" stroke="#737373" stroke-width="0.7"/>
<path d="M512.98 636.22V629.97A6.25 6.25 0 0 0 511.81 642.36Z" fill="#e57d5e" stroke="#444" stroke-width="0.5"/>
<circle cx="527.76" cy="636.22" r="6.25" fill="#fff" stroke="#737373" stroke-width="0.7"/>
<path d="M527.76 636.22V629.97A6.25 6.25 0 1 0 528.54 642.42Z" fill="#dd6b51" stroke="#444" stroke-width="0.5"/>
<circle cx="542.54" cy="636.22" r="6.25" fill="#fff" stroke="#737373" stroke-width="0.7"/>
<path d="M542.54 636.22V629.97A6.25 6.25 0 0 1 548.79 636.22Z" fill="#b7d7e8" stroke="#444" stroke-width="0.5"/>
<circle cx="557.32" cy="636.22" r="6.25" fill="#fff" stroke="#737373" stroke-width="0.7"/>
<path d="M557.32 636.22V629.97A6.25 6.25 0 0 1 563.26 634.29Z" fill="#c9e0ed" stroke="#444" stroke-width="0.5"/>
<circle cx="572.10" cy="636.22" r="6.25" fill="#fff" stroke="#737373" stroke-width="0.7"/>
<path d="M572.10 636.22V629.97A6.25 6.25 0 1 0 578.35 636.22Z" fill="#b01d25" stroke="#444" stroke-width="0.5"/>
<circle cx="586.88" cy="636.22" r="6.25" fill="#fff" stroke="#737373" stroke-width="0.7"/>
<path d="M586.88 636.22V629.97A6.25 6.25 0 0 0 586.88 629.97Z" fill="#ffffff" stroke="#444" stroke-width="0.5"/>
<circle cx="601.66" cy="636.22" r="6.25" fill="#fff" stroke="#737373" stroke-width="0.7"/>
<path d="M601.66 636.22V629.97A6.25 6.25 0 1 0 607.14 639.23Z" fill="#c03732" stroke="#444" stroke-width="0.5"/>
<circle cx="616.44" cy="636.22" r="6.25" fill="#fff" stroke="#737373" stroke-width="0.7"/>
<path d="M616.44 636.22V629.97A6.25 6.25 0 0 0 612.77 631.16Z" fill="#feeade" stroke="#444" stroke-width="0.5"/>
<circle cx="631.22" cy="636.22" r="6.25" fill="#fff" stroke="#737373" stroke-width="0.7"/>
<circle cx="631.22" cy="636.22" r="6.25" fill="#022250" stroke="#333" stroke-width="0.5"/>
<path d="M631.22 636.22V629.97" stroke="#111" stroke-width="0.6"/>
<circle cx="646.00" cy="636.22" r="6.25" fill="#fff" stroke="#737373" stroke-width="0.7"/>
<path d="M646.00 636.22V629.97A6.25 6.25 0 0 1 651.06 632.55Z" fill="#d6e8f2" stroke="#444" stroke-width="0.5"/>
<circle cx="660.78" cy="636.22" r="6.25" fill="#fff" stroke="#737373" stroke-width="0.7"/>
<path d="M660.78 636.22V629.97A6.25 6.25 0 0 1 663.79 641.70Z" fill="#7ab5d5" stroke="#444" stroke-width="0.5"/>
<circle cx="675.56" cy="636.22" r="6.25" fill="#fff" stroke="#737373" stroke-width="0.7"/>
<path d="M675.56 636.22V629.97A6.25 6.25 0 0 1 676.34 642.42Z" fill="#61a5cb" stroke="#444" stroke-width="0.5"/>
<circle cx="468.64" cy="651.00" r="6.25" fill="#fff" stroke="#737373" stroke-width="0.7"/>
<path d="M468.64 651.00V644.75A6.25 6.25 0 0 0 467.86 644.80Z" fill="#fffbf8" stroke="#444" stroke-width="0.5"/>
<circle cx="483.42" cy="651.00" r="6.25" fill="#fff" stroke="#737373" stroke-width="0.7"/>
<path d="M483.42 651.00V644.75A6.25 6.25 0 0 0 483.42 657.25Z" fill="#e07256" stroke="#444" stroke-width="0.5"/>
<circle cx="498.20" cy="651.00" r="6.25" fill="#fff" stroke="#737373" stroke-width="0.7"/>
<path d="M498.20 651.00V644.75A6.25 6.25 0 0 1 500.13 645.06Z" fill="#f1f7fb" stroke="#444" stroke-width="0.5"/>
<circle cx="512.98" cy="651.00" r="6.25" fill="#fff" stroke="#737373" stroke-width="0.7"/>
<path d="M512.98 651.00V644.75A6.25 6.25 0 1 0 518.46 654.01Z" fill="#c03732" stroke="#444" stroke-width="0.5"/>
<circle cx="527.76" cy="651.00" r="6.25" fill="#fff" stroke="#737373" stroke-width="0.7"/>
<path d="M527.76 651.00V644.75A6.25 6.25 0 0 0 521.51 651.00Z" fill="#fac5aa" stroke="#444" stroke-width="0.5"/>
<circle cx="542.54" cy="651.00" r="6.25" fill="#fff" stroke="#737373" stroke-width="0.7"/>
<path d="M542.54 651.00V644.75A6.25 6.25 0 0 1 547.60 647.33Z" fill="#d6e8f2" stroke="#444" stroke-width="0.5"/>
<circle cx="557.32" cy="651.00" r="6.25" fill="#fff" stroke="#737373" stroke-width="0.7"/>
<path d="M557.32 651.00V644.75A6.25 6.25 0 0 1 563.57 651.00Z" fill="#b7d7e8" stroke="#444" stroke-width="0.5"/>
<circle cx="572.10" cy="651.00" r="6.25" fill="#fff" stroke="#737373" stroke-width="0.7"/>
<path d="M572.10 651.00V644.75A6.25 6.25 0 0 0 570.17 645.06Z" fill="#fef4ee" stroke="#444" stroke-width="0.5"/>
<circle cx="586.88" cy="651.00" r="6.25" fill="#fff" stroke="#737373" stroke-width="0.7"/>
<path d="M586.88 651.00V644.75A6.25 6.25 0 0 0 582.60 655.56Z" fill="#f39d79" stroke="#444" stroke-width="0.5"/>
<circle cx="601.66" cy="651.00" r="6.25" fill="#fff" stroke="#737373" stroke-width="0.7"/>
<path d="M601.66 651.00V644.75A6.25 6.25 0 0 0 595.41 651.00Z" fill="#fac5aa" stroke="#444" stroke-width="0.5"/>
<circle cx="616.44" cy="651.00" r="6.25" fill="#fff" stroke="#737373" stroke-width="0.7"/>
<path d="M616.44 651.00V644.75A6.25 6.25 0 0 0 613.43 656.48Z" fill="#ee906c" stroke="#444" stroke-width="0.5"/>
<circle cx="631.22" cy="651.00" r="6.25" fill="#fff" stroke="#737373" stroke-width="0.7"/>
<path d="M631.22 651.00V644.75A6.25 6.25 0 0 1 636.28 647.33Z" fill="#d6e8f2" stroke="#444" stroke-width="0.5"/>
<circle cx="646.00" cy="651.00" r="6.25" fill="#fff" stroke="#737373" stroke-width="0.7"/>
<circle cx="646.00" cy="651.00" r="6.25" fill="#022250" stroke="#333" stroke-width="0.5"/>
<path d="M646.00 651.00V644.75" stroke="#111" stroke-width="0.6"/>
<circle cx="660.78" cy="651.00" r="6.25" fill="#fff" stroke="#737373" stroke-width="0.7"/>
<path d="M660.78 651.00V644.75A6.25 6.25 0 1 1 655.30 654.01Z" fill="#2973b0" stroke="#444" stroke-width="0.5"/>
<circle cx="675.56" cy="651.00" r="6.25" fill="#fff" stroke="#737373" stroke-width="0.7"/>
<path d="M675.56 651.00V644.75A6.25 6.25 0 0 1 681.50 649.07Z" fill="#c9e0ed" stroke="#444" stroke-width="0.5"/>
<circle cx="468.64" cy="665.78" r="6.25" fill="#fff" stroke="#737373" stroke-width="0.7"/>
<path d="M468.64 665.78V659.53A6.25 6.25 0 0 0 468.64 672.03Z" fill="#e07256" stroke="#444" stroke-width="0.5"/>
<circle cx="483.42" cy="665.78" r="6.25" fill="#fff" stroke="#737373" stroke-width="0.7"/>
<path d="M483.42 665.78V659.53A6.25 6.25 0 1 0 488.70 662.43Z" fill="#950b1c" stroke="#444" stroke-width="0.5"/>
<circle cx="498.20" cy="665.78" r="6.25" fill="#fff" stroke="#737373" stroke-width="0.7"/>
<path d="M498.20 665.78V659.53A6.25 6.25 0 0 1 498.98 659.58Z" fill="#f9fcfd" stroke="#444" stroke-width="0.5"/>
<circle cx="512.98" cy="665.78" r="6.25" fill="#fff" stroke="#737373" stroke-width="0.7"/>
<circle cx="512.98" cy="665.78" r="6.25" fill="#580015" stroke="#333" stroke-width="0.5"/>
<path d="M512.98 665.78V659.53" stroke="#111" stroke-width="0.6"/>
<circle cx="527.76" cy="665.78" r="6.25" fill="#fff" stroke="#737373" stroke-width="0.7"/>
<path d="M527.76 665.78V659.53A6.25 6.25 0 0 0 524.09 660.72Z" fill="#feeade" stroke="#444" stroke-width="0.5"/>
<circle cx="542.54" cy="665.78" r="6.25" fill="#fff" stroke="#737373" stroke-width="0.7"/>
<path d="M542.54 665.78V659.53A6.25 6.25 0 0 1 548.79 665.78Z" fill="#b7d7e8" stroke="#444" stroke-width="0.5"/>
<circle cx="557.32" cy="665.78" r="6.25" fill="#fff" stroke="#737373" stroke-width="0.7"/>
<path d="M557.32 665.78V659.53A6.25 6.25 0 1 1 551.07 665.78Z" fill="#1d60a5" stroke="#444" stroke-width="0.5"/>
<circle cx="572.10" cy="665.78" r="6.25" fill="#fff" stroke="#737373" stroke-width="0.7"/>
<path d="M572.10 665.78V659.53A6.25 6.25 0 0 0 566.16 667.71Z" fill="#f7b597" stroke="#444" stroke-width="0.5"/>
<circle cx="586.88" cy="665.78" r="6.25" fill="#fff" stroke="#737373" stroke-width="0.7"/>
<path d="M586.88 665.78V659.53A6.25 6.25 0 0 1 592.82 663.85Z" fill="#c9e0ed" stroke="#444" stroke-width="0.5"/>
<circle cx="601.66" cy="665.78" r="6.25" fill="#fff" stroke="#737373" stroke-width="0.7"/>
<path d="M601.66 665.78V659.53A6.25 6.25 0 0 0 596.00 668.44Z" fill="#f6af8f" stroke="#444" stroke-width="0.5"/>
<circle cx="616.44" cy="665.78" r="6.25" fill="#fff" stroke="#737373" stroke-width="0.7"/>
<path d="M616.44 665.78V659.53A6.25 6.25 0 0 0 616.44 659.53Z" fill="#ffffff" stroke="#444" stroke-width="0.5"/>
<circle cx="631.22" cy="665.78" r="6.25" fill="#fff" stroke="#737373" stroke-width="0.7"/>
<path d="M631.22 665.78V659.53A6.25 6.25 0 0 1 634.23 671.26Z" fill="#7ab5d5" stroke="#444" stroke-width="0.5"/>
<circle cx="646.00" cy="665.78" r="6.25" fill="#fff" stroke="#737373" stroke-width="0.7"/>
<path d="M646.00 665.78V659.53A6.25 6.25 0 1 1 640.52 668.79Z" fill="#2973b0" stroke="#444" stroke-width="0.5"/>
<circle cx="660.78" cy="665.78" r="6.25" fill="#fff" stroke="#737373" stroke-width="0.7"/>
<circle cx="660.78" cy="665.78" r="6.25" fill="#022250" stroke="#333" stroke-width="0.5"/>
<path d="M660.78 665.78V659.53" stroke="#111" stroke-width="0.6"/>
<circle cx="675.56" cy="665.78" r="6.25" fill="#fff" stroke="#737373" stroke-width="0.7"/>
<path d="M675.56 665.78V659.53A6.25 6.25 0 0 0 674.78 659.58Z" fill="#fffbf8" stroke="#444" stroke-width="0.5"/>
<circle cx="468.64" cy="680.56" r="6.25" fill="#fff" stroke="#737373" stroke-width="0.7"/>
<path d="M468.64 680.56V674.31A6.25 6.25 0 0 1 472.31 685.62Z" fill="#83bbd8" stroke="#444" stroke-width="0.5"/>
<circle cx="483.42" cy="680.56" r="6.25" fill="#fff" stroke="#737373" stroke-width="0.7"/>
<path d="M483.42 680.56V674.31A6.25 6.25 0 0 0 482.64 674.36Z" fill="#fffbf8" stroke="#444" stroke-width="0.5"/>
<circle cx="498.20" cy="680.56" r="6.25" fill="#fff" stroke="#737373" stroke-width="0.7"/>
<path d="M498.20 680.56V674.31A6.25 6.25 0 0 0 494.53 675.50Z" fill="#feeade" stroke="#444" stroke-width="0.5"/>
<circle cx="512.98" cy="680.56" r="6.25" fill="#fff" stroke="#737373" stroke-width="0.7"/>
<path d="M512.98 680.56V674.31A6.25 6.25 0 0 1 513.76 674.36Z" fill="#f9fcfd" stroke="#444" stroke-width="0.5"/>
<circle cx="527.76" cy="680.56" r="6.25" fill="#fff" stroke="#737373" stroke-width="0.7"/>
<path d="M527.76 680.56V674.31A6.25 6.25 0 0 0 522.10 683.22Z" fill="#f6af8f" stroke="#444" stroke-width="0.5"/>
<circle cx="542.54" cy="680.56" r="6.25" fill="#fff" stroke="#737373" stroke-width="0.7"/>
<path d="M542.54 680.56V674.31A6.25 6.25 0 0 1 542.93 674.32Z" fill="#fcfdfe" stroke="#444" stroke-width="0.5"/>
<circle cx="557.32" cy="680.56" r="6.25" fill="#fff" stroke="#737373" stroke-width="0.7"/>
<path d="M557.32 680.56V674.31A6.25 6.25 0 0 0 551.38 682.49Z" fill="#f7b597" stroke="#444" stroke-width="0.5"/>
<circle cx="572.10" cy="680.56" r="6.25" fill="#fff" stroke="#737373" stroke-width="0.7"/>
<path d="M572.10 680.56V674.31A6.25 6.25 0 0 0 570.17 686.50Z" fill="#e98464" stroke="#444" stroke-width="0.5"/>
<circle cx="586.88" cy="680.56" r="6.25" fill="#fff" stroke="#737373" stroke-width="0.7"/>
<path d="M586.88 680.56V674.31A6.25 6.25 0 0 0 586.88 686.81Z" fill="#e07256" stroke="#444" stroke-width="0.5"/>
<circle cx="601.66" cy="680.56" r="6.25" fill="#fff" stroke="#737373" stroke-width="0.7"/>
<path d="M601.66 680.56V674.31A6.25 6.25 0 0 0 596.00 683.22Z" fill="#f6af8f" stroke="#444" stroke-width="0.5"/>
<circle cx="616.44" cy="680.56" r="6.25" fill="#fff" stroke="#737373" stroke-width="0.7"/>
<path d="M616.44 680.56V674.31A6.25 6.25 0 0 0 610.19 680.56Z" fill="#fac5aa" stroke="#444" stroke-width="0.5"/>
<circle cx="631.22" cy="680.56" r="6.25" fill="#fff" stroke="#737373" stroke-width="0.7"/>
<path d="M631.22 680.56V674.31A6.25 6.25 0 0 1 632.00 686.76Z" fill="#61a5cb" stroke="#444" stroke-width="0.5"/>
<circle cx="646.00" cy="680.56" r="6.25" fill="#fff" stroke="#737373" stroke-width="0.7"/>
<path d="M646.00 680.56V674.31A6.25 6.25 0 0 1 651.94 678.63Z" fill="#c9e0ed" stroke="#444" stroke-width="0.5"/>
<circle cx="660.78" cy="680.56" r="6.25" fill="#fff" stroke="#737373" stroke-width="0.7"/>
<path d="M660.78 680.56V674.31A6.25 6.25 0 0 0 660.00 674.36Z" fill="#fffbf8" stroke="#444" stroke-width="0.5"/>
<circle cx="675.56" cy="680.56" r="6.25" fill="#fff" stroke="#737373" stroke-width="0.7"/>
<circle cx="675.56" cy="680.56" r="6.25" fill="#022250" stroke="#333" stroke-width="0.5"/>
<path d="M675.56 680.56V674.31" stroke="#111" stroke-width="0.6"/>
<g font-size="11.6" fill="#111">
<text x="453.8" y="476.84" text-anchor="end">κ</text>
<text transform="translate(471.84,459.2) rotate(-90)">κ</text>
<text transform="translate(471.84,694.3) rotate(-90)" text-anchor="end">κ</text>
<text x="453.8" y="489.62" text-anchor="end">κ<tspan font-size="8.6" dy="2.7">sg</tspan></text>
<text transform="translate(484.62,459.2) rotate(-90)">κ<tspan font-size="8.6" dy="2.7">sg</tspan></text>
<text transform="translate(484.62,694.3) rotate(-90)" text-anchor="end">κ<tspan font-size="8.6" dy="2.7">sg</tspan></text>
<text x="453.8" y="504.40" text-anchor="end">v<tspan font-size="8.6" dy="2.7">g</tspan></text>
<text transform="translate(499.40,459.2) rotate(-90)">v<tspan font-size="8.6" dy="2.7">g</tspan></text>
<text transform="translate(499.40,694.3) rotate(-90)" text-anchor="end">v<tspan font-size="8.6" dy="2.7">g</tspan></text>
<text x="453.8" y="519.18" text-anchor="end">c<tspan font-size="8.6" dy="2.7">V</tspan></text>
<text transform="translate(514.18,459.2) rotate(-90)">c<tspan font-size="8.6" dy="2.7">V</tspan></text>
<text transform="translate(514.18,694.3) rotate(-90)" text-anchor="end">c<tspan font-size="8.6" dy="2.7">V</tspan></text>
<text x="453.8" y="533.96" text-anchor="end">γ<tspan font-size="8.6" dy="2.7">rms</tspan></text>
<text transform="translate(528.96,459.2) rotate(-90)">γ<tspan font-size="8.6" dy="2.7">rms</tspan></text>
<text transform="translate(528.96,694.3) rotate(-90)" text-anchor="end">γ<tspan font-size="8.6" dy="2.7">rms</tspan></text>
<text x="453.8" y="548.74" text-anchor="end">m<tspan font-size="8.6" dy="2.7" font-style="italic">A</tspan></text>
<text transform="translate(543.74,459.2) rotate(-90)">m<tspan font-size="8.6" dy="2.7" font-style="italic">A</tspan></text>
<text transform="translate(543.74,694.3) rotate(-90)" text-anchor="end">m<tspan font-size="8.6" dy="2.7" font-style="italic">A</tspan></text>
<text x="453.8" y="563.52" text-anchor="end">m<tspan font-size="8.6" dy="2.7" font-style="italic">B</tspan></text>
<text transform="translate(558.52,459.2) rotate(-90)">m<tspan font-size="8.6" dy="2.7" font-style="italic">B</tspan></text>
<text transform="translate(558.52,694.3) rotate(-90)" text-anchor="end">m<tspan font-size="8.6" dy="2.7" font-style="italic">B</tspan></text>
<text x="453.8" y="578.30" text-anchor="end">e<tspan font-size="8.6" dy="2.7" font-style="italic">A</tspan></text>
<text transform="translate(573.30,459.2) rotate(-90)">e<tspan font-size="8.6" dy="2.7" font-style="italic">A</tspan></text>
<text transform="translate(573.30,694.3) rotate(-90)" text-anchor="end">e<tspan font-size="8.6" dy="2.7" font-style="italic">A</tspan></text>
<text x="453.8" y="593.08" text-anchor="end">e<tspan font-size="8.6" dy="2.7" font-style="italic">B</tspan></text>
<text transform="translate(588.08,459.2) rotate(-90)">e<tspan font-size="8.6" dy="2.7" font-style="italic">B</tspan></text>
<text transform="translate(588.08,694.3) rotate(-90)" text-anchor="end">e<tspan font-size="8.6" dy="2.7" font-style="italic">B</tspan></text>
<text x="453.8" y="607.86" text-anchor="end">χ<tspan font-size="8.6" dy="2.7" font-style="italic">A</tspan></text>
<text transform="translate(602.86,459.2) rotate(-90)">χ<tspan font-size="8.6" dy="2.7" font-style="italic">A</tspan></text>
<text transform="translate(602.86,694.3) rotate(-90)" text-anchor="end">χ<tspan font-size="8.6" dy="2.7" font-style="italic">A</tspan></text>
<text x="453.8" y="622.64" text-anchor="end">χ<tspan font-size="8.6" dy="2.7" font-style="italic">B</tspan></text>
<text transform="translate(617.64,459.2) rotate(-90)">χ<tspan font-size="8.6" dy="2.7" font-style="italic">B</tspan></text>
<text transform="translate(617.64,694.3) rotate(-90)" text-anchor="end">χ<tspan font-size="8.6" dy="2.7" font-style="italic">B</tspan></text>
<text x="453.8" y="637.42" text-anchor="end">r<tspan font-size="8.6" dy="2.7" font-style="italic">A</tspan></text>
<text transform="translate(632.42,459.2) rotate(-90)">r<tspan font-size="8.6" dy="2.7" font-style="italic">A</tspan></text>
<text transform="translate(632.42,694.3) rotate(-90)" text-anchor="end">r<tspan font-size="8.6" dy="2.7" font-style="italic">A</tspan></text>
<text x="453.8" y="652.20" text-anchor="end">r<tspan font-size="8.6" dy="2.7" font-style="italic">B</tspan></text>
<text transform="translate(647.20,459.2) rotate(-90)">r<tspan font-size="8.6" dy="2.7" font-style="italic">B</tspan></text>
<text transform="translate(647.20,694.3) rotate(-90)" text-anchor="end">r<tspan font-size="8.6" dy="2.7" font-style="italic">B</tspan></text>
<text x="453.8" y="666.98" text-anchor="end">a<tspan font-size="8.6" dy="2.7">latt</tspan></text>
<text transform="translate(661.98,459.2) rotate(-90)">a<tspan font-size="8.6" dy="2.7">latt</tspan></text>
<text transform="translate(661.98,694.3) rotate(-90)" text-anchor="end">a<tspan font-size="8.6" dy="2.7">latt</tspan></text>
<text x="453.8" y="682.46" text-anchor="end">gap</text>
<text transform="translate(677.46,459.2) rotate(-90)">gap</text>
<text transform="translate(677.46,694.3) rotate(-90)" text-anchor="end">gap</text>
</g>
<defs><linearGradient id="cb" x1="0" y1="0" x2="0" y2="1"><stop offset="0.000" stop-color="#022250"/><stop offset="0.025" stop-color="#072e63"/><stop offset="0.050" stop-color="#0b3b76"/><stop offset="0.075" stop-color="#10488a"/><stop offset="0.100" stop-color="#16559f"/><stop offset="0.125" stop-color="#1d60a5"/><stop offset="0.150" stop-color="#246cac"/><stop offset="0.175" stop-color="#2c78b2"/><stop offset="0.200" stop-color="#3384b9"/><stop offset="0.225" stop-color="#4691c1"/><stop offset="0.250" stop-color="#599fc8"/><stop offset="0.275" stop-color="#6eadd0"/><stop offset="0.300" stop-color="#83bbd8"/><stop offset="0.325" stop-color="#94c4dd"/><stop offset="0.350" stop-color="#a5cde2"/><stop offset="0.375" stop-color="#b7d7e8"/><stop offset="0.400" stop-color="#c9e0ed"/><stop offset="0.425" stop-color="#d6e8f2"/><stop offset="0.450" stop-color="#e4eff6"/><stop offset="0.475" stop-color="#f1f7fb"/><stop offset="0.500" stop-color="#ffffff"/><stop offset="0.525" stop-color="#fef4ee"/><stop offset="0.550" stop-color="#feeade"/><stop offset="0.575" stop-color="#fddfcd"/><stop offset="0.600" stop-color="#fdd4bd"/><stop offset="0.625" stop-color="#fac5aa"/><stop offset="0.650" stop-color="#f7b597"/><stop offset="0.675" stop-color="#f5a684"/><stop offset="0.700" stop-color="#f29772"/><stop offset="0.725" stop-color="#e98464"/><stop offset="0.750" stop-color="#e07256"/><stop offset="0.775" stop-color="#d76049"/><stop offset="0.800" stop-color="#cf4f3d"/><stop offset="0.825" stop-color="#c43e35"/><stop offset="0.850" stop-color="#ba2d2d"/><stop offset="0.875" stop-color="#b01d25"/><stop offset="0.900" stop-color="#a60f1e"/><stop offset="0.925" stop-color="#910b1c"/><stop offset="0.950" stop-color="#7d0719"/><stop offset="0.975" stop-color="#690317"/><stop offset="1.000" stop-color="#560014"/></linearGradient></defs>
<rect x="686.3" y="466.3" width="8.7" height="221.7" fill="url(#cb)" stroke="#aaa" stroke-width="0.5"/>
<path d="M695 466.30H697M695 488.47H697M695 510.64H697M695 532.81H697M695 554.98H697M695 577.15H697M695 599.32H697M695 621.49H697M695 643.66H697M695 665.83H697M695 688.00H697" stroke="#555" stroke-width="0.6"/>
<g font-size="10.6" fill="#111"><text x="701.5" y="470.9">1</text><text x="701.5" y="581.3">0</text><text x="700" y="692">-1</text></g>
</svg></body></html>
